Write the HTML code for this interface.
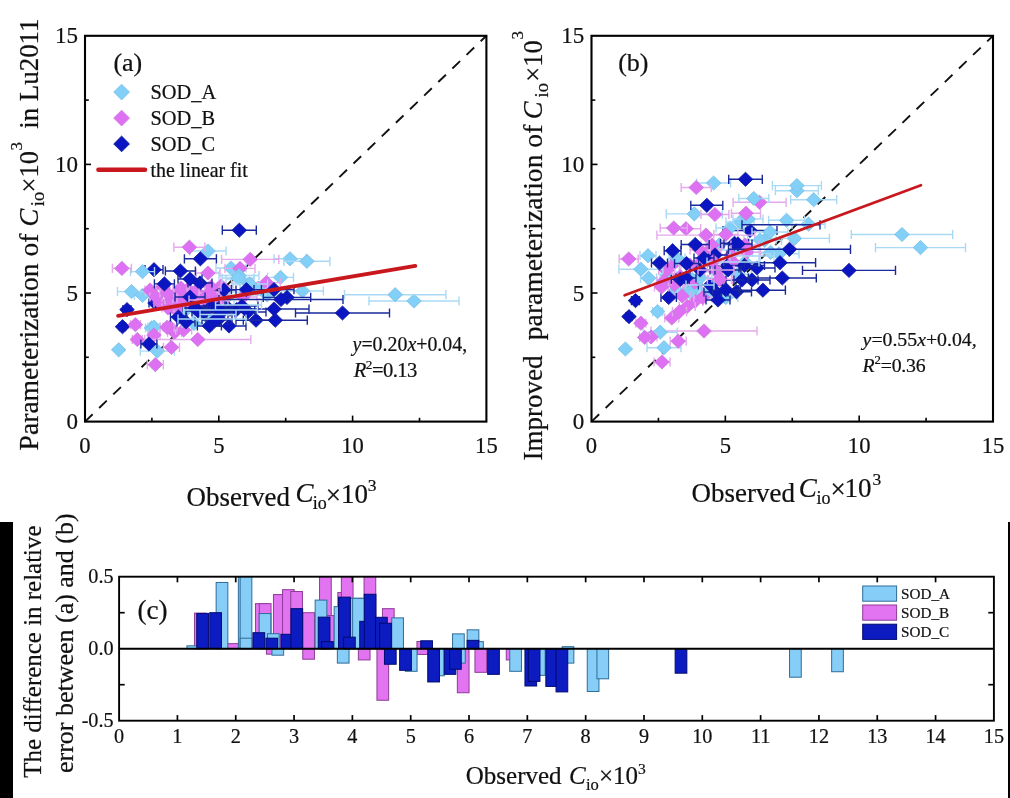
<!DOCTYPE html>
<html lang="en"><head><meta charset="utf-8"><title>Figure</title>
<style>html,body{margin:0;padding:0;background:#fff;}body{width:1010px;height:798px;overflow:hidden;}svg{display:block;}text{font-family:'Liberation Serif', 'DejaVu Serif', serif;fill:#111;stroke:#111;stroke-width:0.22px;}</style>
</head><body>
<svg width="1010" height="798" viewBox="0 0 1010 798">
<rect x="0" y="0" width="1010" height="798" fill="#fff"/>
<rect x="0" y="522" width="13" height="276" fill="#000"/>
<rect x="1008" y="522" width="2" height="276" fill="#000"/>
<g id="panel-a">
<line x1="85" y1="421.6" x2="486.4" y2="35.8" stroke="#111" stroke-width="1.9" stroke-dasharray="10.6 9"/>
<path d="M267.5 277.4H293.5M267.5 272.8V282M293.5 272.8V282" fill="none" stroke="#a9d9f5" stroke-width="1.4"/>
<path d="M273.2 277.4L280.5 270.3L287.8 277.4L280.5 284.5Z" fill="#82cff7" stroke="#79bfe6" stroke-width="0.8"/>
<path d="M204 305H234M204 300.4V309.6M234 300.4V309.6" fill="none" stroke="#a9d9f5" stroke-width="1.4"/>
<path d="M211.7 305L219 297.9L226.3 305L219 312.1Z" fill="#82cff7" stroke="#79bfe6" stroke-width="0.8"/>
<path d="M216 268H246M216 263.4V272.6M246 263.4V272.6" fill="none" stroke="#a9d9f5" stroke-width="1.4"/>
<path d="M223.7 268L231 260.9L238.3 268L231 275.1Z" fill="#82cff7" stroke="#79bfe6" stroke-width="0.8"/>
<path d="M192 315H218M192 310.4V319.6M218 310.4V319.6" fill="none" stroke="#a9d9f5" stroke-width="1.4"/>
<path d="M197.7 315L205 307.9L212.3 315L205 322.1Z" fill="#82cff7" stroke="#79bfe6" stroke-width="0.8"/>
<path d="M199 300H227M199 295.4V304.6M227 295.4V304.6" fill="none" stroke="#a9d9f5" stroke-width="1.4"/>
<path d="M205.7 300L213 292.9L220.3 300L213 307.1Z" fill="#82cff7" stroke="#79bfe6" stroke-width="0.8"/>
<path d="M190 251H226M190 246.4V255.6M226 246.4V255.6" fill="none" stroke="#a9d9f5" stroke-width="1.4"/>
<path d="M200.7 251L208 243.9L215.3 251L208 258.1Z" fill="#82cff7" stroke="#79bfe6" stroke-width="0.8"/>
<path d="M111.4 349.8L118.7 342.7L126 349.8L118.7 356.9Z" fill="#82cff7" stroke="#79bfe6" stroke-width="0.8"/>
<path d="M166 300H186M166 295.4V304.6M186 295.4V304.6" fill="none" stroke="#a9d9f5" stroke-width="1.4"/>
<path d="M168.7 300L176 292.9L183.3 300L176 307.1Z" fill="#82cff7" stroke="#79bfe6" stroke-width="0.8"/>
<path d="M211 298H241M211 293.4V302.6M241 293.4V302.6" fill="none" stroke="#a9d9f5" stroke-width="1.4"/>
<path d="M218.7 298L226 290.9L233.3 298L226 305.1Z" fill="#82cff7" stroke="#79bfe6" stroke-width="0.8"/>
<path d="M281.4 291H323.4M281.4 286.4V295.6M323.4 286.4V295.6" fill="none" stroke="#a9d9f5" stroke-width="1.4"/>
<path d="M295.1 291L302.4 283.9L309.7 291L302.4 298.1Z" fill="#82cff7" stroke="#79bfe6" stroke-width="0.8"/>
<path d="M149 303H161M149 298.4V307.6M161 298.4V307.6" fill="none" stroke="#1a2a9c" stroke-width="1.4"/>
<path d="M147.7 303L155 295.9L162.3 303L155 310.1Z" fill="#0b16c2" stroke="#101c96" stroke-width="0.8"/>
<path d="M134.5 295.4H150.5M134.5 290.8V300M150.5 290.8V300" fill="none" stroke="#a9d9f5" stroke-width="1.4"/>
<path d="M135.2 295.4L142.5 288.3L149.8 295.4L142.5 302.5Z" fill="#82cff7" stroke="#79bfe6" stroke-width="0.8"/>
<path d="M247 295H287M247 290.4V299.6M287 290.4V299.6" fill="none" stroke="#a9d9f5" stroke-width="1.4"/>
<path d="M259.7 295L267 287.9L274.3 295L267 302.1Z" fill="#82cff7" stroke="#79bfe6" stroke-width="0.8"/>
<path d="M174 310H198M174 305.4V314.6M198 305.4V314.6" fill="none" stroke="#a9d9f5" stroke-width="1.4"/>
<path d="M178.7 310L186 302.9L193.3 310L186 317.1Z" fill="#82cff7" stroke="#79bfe6" stroke-width="0.8"/>
<path d="M226 279H254M226 274.4V283.6M254 274.4V283.6" fill="none" stroke="#a9d9f5" stroke-width="1.4"/>
<path d="M232.7 279L240 271.9L247.3 279L240 286.1Z" fill="#82cff7" stroke="#79bfe6" stroke-width="0.8"/>
<path d="M240 288H276M240 283.4V292.6M276 283.4V292.6" fill="none" stroke="#a9d9f5" stroke-width="1.4"/>
<path d="M250.7 288L258 280.9L265.3 288L258 295.1Z" fill="#82cff7" stroke="#79bfe6" stroke-width="0.8"/>
<path d="M274 258.8H306M274 254.2V263.4M306 254.2V263.4" fill="none" stroke="#a9d9f5" stroke-width="1.4"/>
<path d="M282.7 258.8L290 251.7L297.3 258.8L290 265.9Z" fill="#82cff7" stroke="#79bfe6" stroke-width="0.8"/>
<path d="M140.3 351.1H174.3M140.3 346.5V355.7M174.3 346.5V355.7" fill="none" stroke="#a9d9f5" stroke-width="1.4"/>
<path d="M150 351.1L157.3 344L164.6 351.1L157.3 358.2Z" fill="#82cff7" stroke="#79bfe6" stroke-width="0.8"/>
<path d="M252.3 282.6H280.3M252.3 278V287.2M280.3 278V287.2" fill="none" stroke="#e4aaeb" stroke-width="1.4"/>
<path d="M259 282.6L266.3 275.5L273.6 282.6L266.3 289.7Z" fill="#dd70f3" stroke="#cc77dc" stroke-width="0.8"/>
<path d="M193 300H213M193 295.4V304.6M213 295.4V304.6" fill="none" stroke="#e4aaeb" stroke-width="1.4"/>
<path d="M195.7 300L203 292.9L210.3 300L203 307.1Z" fill="#dd70f3" stroke="#cc77dc" stroke-width="0.8"/>
<path d="M145.5 328H157.5M145.5 323.4V332.6M157.5 323.4V332.6" fill="none" stroke="#a9d9f5" stroke-width="1.4"/>
<path d="M144.2 328L151.5 320.9L158.8 328L151.5 335.1Z" fill="#82cff7" stroke="#79bfe6" stroke-width="0.8"/>
<path d="M229.5 292H265.5M229.5 287.4V296.6M265.5 287.4V296.6" fill="none" stroke="#a9d9f5" stroke-width="1.4"/>
<path d="M240.2 292L247.5 284.9L254.8 292L247.5 299.1Z" fill="#82cff7" stroke="#79bfe6" stroke-width="0.8"/>
<path d="M167.6 332.5H181.6M167.6 327.9V337.1M181.6 327.9V337.1" fill="none" stroke="#e4aaeb" stroke-width="1.4"/>
<path d="M167.3 332.5L174.6 325.4L181.9 332.5L174.6 339.6Z" fill="#dd70f3" stroke="#cc77dc" stroke-width="0.8"/>
<path d="M157 287H169M157 282.4V291.6M169 282.4V291.6" fill="none" stroke="#e4aaeb" stroke-width="1.4"/>
<path d="M155.7 287L163 279.9L170.3 287L163 294.1Z" fill="#dd70f3" stroke="#cc77dc" stroke-width="0.8"/>
<path d="M147.3 364.6H163.3M147.3 360V369.2M163.3 360V369.2" fill="none" stroke="#e4aaeb" stroke-width="1.4"/>
<path d="M148 364.6L155.3 357.5L162.6 364.6L155.3 371.7Z" fill="#dd70f3" stroke="#cc77dc" stroke-width="0.8"/>
<path d="M148 327H160M148 322.4V331.6M160 322.4V331.6" fill="none" stroke="#a9d9f5" stroke-width="1.4"/>
<path d="M146.7 327L154 319.9L161.3 327L154 334.1Z" fill="#82cff7" stroke="#79bfe6" stroke-width="0.8"/>
<path d="M209 285.8H233M209 281.2V290.4M233 281.2V290.4" fill="none" stroke="#e4aaeb" stroke-width="1.4"/>
<path d="M213.7 285.8L221 278.7L228.3 285.8L221 292.9Z" fill="#dd70f3" stroke="#cc77dc" stroke-width="0.8"/>
<path d="M196 273H220M196 268.4V277.6M220 268.4V277.6" fill="none" stroke="#e4aaeb" stroke-width="1.4"/>
<path d="M200.7 273L208 265.9L215.3 273L208 280.1Z" fill="#dd70f3" stroke="#cc77dc" stroke-width="0.8"/>
<path d="M173.9 247.2H204.9M173.9 242.6V251.8M204.9 242.6V251.8" fill="none" stroke="#e4aaeb" stroke-width="1.4"/>
<path d="M182.1 247.2L189.4 240.1L196.7 247.2L189.4 254.3Z" fill="#dd70f3" stroke="#cc77dc" stroke-width="0.8"/>
<path d="M205 296H225M205 291.4V300.6M225 291.4V300.6" fill="none" stroke="#e4aaeb" stroke-width="1.4"/>
<path d="M207.7 296L215 288.9L222.3 296L215 303.1Z" fill="#dd70f3" stroke="#cc77dc" stroke-width="0.8"/>
<path d="M283.9 261.3H329.9M283.9 256.7V265.9M329.9 256.7V265.9" fill="none" stroke="#a9d9f5" stroke-width="1.4"/>
<path d="M299.6 261.3L306.9 254.2L314.2 261.3L306.9 268.4Z" fill="#82cff7" stroke="#79bfe6" stroke-width="0.8"/>
<path d="M225 268.4H255M225 263.8V273M255 263.8V273" fill="none" stroke="#e4aaeb" stroke-width="1.4"/>
<path d="M232.7 268.4L240 261.3L247.3 268.4L240 275.5Z" fill="#dd70f3" stroke="#cc77dc" stroke-width="0.8"/>
<path d="M154 303H166M154 298.4V307.6M166 298.4V307.6" fill="none" stroke="#e4aaeb" stroke-width="1.4"/>
<path d="M152.7 303L160 295.9L167.3 303L160 310.1Z" fill="#dd70f3" stroke="#cc77dc" stroke-width="0.8"/>
<path d="M212 290H236M212 285.4V294.6M236 285.4V294.6" fill="none" stroke="#1a2a9c" stroke-width="1.4"/>
<path d="M216.7 290L224 282.9L231.3 290L224 297.1Z" fill="#0b16c2" stroke="#101c96" stroke-width="0.8"/>
<path d="M219 275.5H259M219 270.9V280.1M259 270.9V280.1" fill="none" stroke="#a9d9f5" stroke-width="1.4"/>
<path d="M231.7 275.5L239 268.4L246.3 275.5L239 282.6Z" fill="#82cff7" stroke="#79bfe6" stroke-width="0.8"/>
<path d="M117.5 291.6H145.5M117.5 287V296.2M145.5 287V296.2" fill="none" stroke="#a9d9f5" stroke-width="1.4"/>
<path d="M124.2 291.6L131.5 284.5L138.8 291.6L131.5 298.7Z" fill="#82cff7" stroke="#79bfe6" stroke-width="0.8"/>
<path d="M145 269.7H163M145 265.1V274.3M163 265.1V274.3" fill="none" stroke="#1a2a9c" stroke-width="1.4"/>
<path d="M146.7 269.7L154 262.6L161.3 269.7L154 276.8Z" fill="#0b16c2" stroke="#101c96" stroke-width="0.8"/>
<path d="M175.7 329.9H191.7M175.7 325.3V334.5M191.7 325.3V334.5" fill="none" stroke="#e4aaeb" stroke-width="1.4"/>
<path d="M176.4 329.9L183.7 322.8L191 329.9L183.7 337Z" fill="#dd70f3" stroke="#cc77dc" stroke-width="0.8"/>
<path d="M182 323.5H206M182 318.9V328.1M206 318.9V328.1" fill="none" stroke="#a9d9f5" stroke-width="1.4"/>
<path d="M186.7 323.5L194 316.4L201.3 323.5L194 330.6Z" fill="#82cff7" stroke="#79bfe6" stroke-width="0.8"/>
<path d="M165.4 271H195.4M165.4 266.4V275.6M195.4 266.4V275.6" fill="none" stroke="#1a2a9c" stroke-width="1.4"/>
<path d="M173.1 271L180.4 263.9L187.7 271L180.4 278.1Z" fill="#0b16c2" stroke="#101c96" stroke-width="0.8"/>
<path d="M213 308H243M213 303.4V312.6M243 303.4V312.6" fill="none" stroke="#1a2a9c" stroke-width="1.4"/>
<path d="M220.7 308L228 300.9L235.3 308L228 315.1Z" fill="#0b16c2" stroke="#101c96" stroke-width="0.8"/>
<path d="M201 287H221M201 282.4V291.6M221 282.4V291.6" fill="none" stroke="#e4aaeb" stroke-width="1.4"/>
<path d="M203.7 287L211 279.9L218.3 287L211 294.1Z" fill="#dd70f3" stroke="#cc77dc" stroke-width="0.8"/>
<path d="M222 278H254M222 273.4V282.6M254 273.4V282.6" fill="none" stroke="#a9d9f5" stroke-width="1.4"/>
<path d="M230.7 278L238 270.9L245.3 278L238 285.1Z" fill="#82cff7" stroke="#79bfe6" stroke-width="0.8"/>
<path d="M130.5 271.6H154.5M130.5 267V276.2M154.5 267V276.2" fill="none" stroke="#a9d9f5" stroke-width="1.4"/>
<path d="M135.2 271.6L142.5 264.5L149.8 271.6L142.5 278.7Z" fill="#82cff7" stroke="#79bfe6" stroke-width="0.8"/>
<path d="M145 290H155M145 285.4V294.6M155 285.4V294.6" fill="none" stroke="#e4aaeb" stroke-width="1.4"/>
<path d="M142.7 290L150 282.9L157.3 290L150 297.1Z" fill="#dd70f3" stroke="#cc77dc" stroke-width="0.8"/>
<path d="M150 297H162M150 292.4V301.6M162 292.4V301.6" fill="none" stroke="#e4aaeb" stroke-width="1.4"/>
<path d="M148.7 297L156 289.9L163.3 297L156 304.1Z" fill="#dd70f3" stroke="#cc77dc" stroke-width="0.8"/>
<path d="M208 301H228M208 296.4V305.6M228 296.4V305.6" fill="none" stroke="#e4aaeb" stroke-width="1.4"/>
<path d="M210.7 301L218 293.9L225.3 301L218 308.1Z" fill="#dd70f3" stroke="#cc77dc" stroke-width="0.8"/>
<path d="M369 301H459M369 296.4V305.6M459 296.4V305.6" fill="none" stroke="#a9d9f5" stroke-width="1.4"/>
<path d="M406.7 301L414 293.9L421.3 301L414 308.1Z" fill="#82cff7" stroke="#79bfe6" stroke-width="0.8"/>
<path d="M221.6 259.4H278.8M221.6 254.8V264M278.8 254.8V264" fill="none" stroke="#e4aaeb" stroke-width="1.4"/>
<path d="M242.9 259.4L250.2 252.3L257.5 259.4L250.2 266.5Z" fill="#dd70f3" stroke="#cc77dc" stroke-width="0.8"/>
<path d="M119.5 326.7H125.5M119.5 322.1V331.3M125.5 322.1V331.3" fill="none" stroke="#1a2a9c" stroke-width="1.4"/>
<path d="M115.2 326.7L122.5 319.6L129.8 326.7L122.5 333.8Z" fill="#0b16c2" stroke="#101c96" stroke-width="0.8"/>
<path d="M231.6 284H267.6M231.6 279.4V288.6M267.6 279.4V288.6" fill="none" stroke="#a9d9f5" stroke-width="1.4"/>
<path d="M242.3 284L249.6 276.9L256.9 284L249.6 291.1Z" fill="#82cff7" stroke="#79bfe6" stroke-width="0.8"/>
<path d="M344.5 294.7H445.9M344.5 290.1V299.3M445.9 290.1V299.3" fill="none" stroke="#a9d9f5" stroke-width="1.4"/>
<path d="M387.9 294.7L395.2 287.6L402.5 294.7L395.2 301.8Z" fill="#82cff7" stroke="#79bfe6" stroke-width="0.8"/>
<path d="M112.4 268.4H131.4M112.4 263.8V273M131.4 263.8V273" fill="none" stroke="#e4aaeb" stroke-width="1.4"/>
<path d="M114.6 268.4L121.9 261.3L129.2 268.4L121.9 275.5Z" fill="#dd70f3" stroke="#cc77dc" stroke-width="0.8"/>
<path d="M230 312H266M230 307.4V316.6M266 307.4V316.6" fill="none" stroke="#1a2a9c" stroke-width="1.4"/>
<path d="M240.7 312L248 304.9L255.3 312L248 319.1Z" fill="#0b16c2" stroke="#101c96" stroke-width="0.8"/>
<path d="M169 310H183M169 305.4V314.6M183 305.4V314.6" fill="none" stroke="#e4aaeb" stroke-width="1.4"/>
<path d="M168.7 310L176 302.9L183.3 310L176 317.1Z" fill="#dd70f3" stroke="#cc77dc" stroke-width="0.8"/>
<path d="M197 305H215M197 300.4V309.6M215 300.4V309.6" fill="none" stroke="#e4aaeb" stroke-width="1.4"/>
<path d="M198.7 305L206 297.9L213.3 305L206 312.1Z" fill="#dd70f3" stroke="#cc77dc" stroke-width="0.8"/>
<path d="M162 308H174M162 303.4V312.6M174 303.4V312.6" fill="none" stroke="#e4aaeb" stroke-width="1.4"/>
<path d="M160.7 308L168 300.9L175.3 308L168 315.1Z" fill="#dd70f3" stroke="#cc77dc" stroke-width="0.8"/>
<path d="M254 289.6H294M254 285V294.2M294 285V294.2" fill="none" stroke="#1a2a9c" stroke-width="1.4"/>
<path d="M266.7 289.6L274 282.5L281.3 289.6L274 296.7Z" fill="#0b16c2" stroke="#101c96" stroke-width="0.8"/>
<path d="M170 292H184M170 287.4V296.6M184 287.4V296.6" fill="none" stroke="#e4aaeb" stroke-width="1.4"/>
<path d="M169.7 292L177 284.9L184.3 292L177 299.1Z" fill="#dd70f3" stroke="#cc77dc" stroke-width="0.8"/>
<path d="M132.3 339.5H142.3M132.3 334.9V344.1M142.3 334.9V344.1" fill="none" stroke="#e4aaeb" stroke-width="1.4"/>
<path d="M130 339.5L137.3 332.4L144.6 339.5L137.3 346.6Z" fill="#dd70f3" stroke="#cc77dc" stroke-width="0.8"/>
<path d="M236 320.2H276M236 315.6V324.8M276 315.6V324.8" fill="none" stroke="#1a2a9c" stroke-width="1.4"/>
<path d="M248.7 320.2L256 313.1L263.3 320.2L256 327.3Z" fill="#0b16c2" stroke="#101c96" stroke-width="0.8"/>
<path d="M165 300H179M165 295.4V304.6M179 295.4V304.6" fill="none" stroke="#e4aaeb" stroke-width="1.4"/>
<path d="M164.7 300L172 292.9L179.3 300L172 307.1Z" fill="#dd70f3" stroke="#cc77dc" stroke-width="0.8"/>
<path d="M183 305H201M183 300.4V309.6M201 300.4V309.6" fill="none" stroke="#e4aaeb" stroke-width="1.4"/>
<path d="M184.7 305L192 297.9L199.3 305L192 312.1Z" fill="#dd70f3" stroke="#cc77dc" stroke-width="0.8"/>
<path d="M148 335H160M148 330.4V339.6M160 330.4V339.6" fill="none" stroke="#e4aaeb" stroke-width="1.4"/>
<path d="M146.7 335L154 327.9L161.3 335L154 342.1Z" fill="#dd70f3" stroke="#cc77dc" stroke-width="0.8"/>
<path d="M163 327H177M163 322.4V331.6M177 322.4V331.6" fill="none" stroke="#e4aaeb" stroke-width="1.4"/>
<path d="M162.7 327L170 319.9L177.3 327L170 334.1Z" fill="#dd70f3" stroke="#cc77dc" stroke-width="0.8"/>
<path d="M190 296H208M190 291.4V300.6M208 291.4V300.6" fill="none" stroke="#e4aaeb" stroke-width="1.4"/>
<path d="M191.7 296L199 288.9L206.3 296L199 303.1Z" fill="#dd70f3" stroke="#cc77dc" stroke-width="0.8"/>
<path d="M222.3 230.2H256.3M222.3 225.6V234.8M256.3 225.6V234.8" fill="none" stroke="#1a2a9c" stroke-width="1.4"/>
<path d="M232 230.2L239.3 223.1L246.6 230.2L239.3 237.3Z" fill="#0b16c2" stroke="#101c96" stroke-width="0.8"/>
<path d="M123 309.6H131M123 305V314.2M131 305V314.2" fill="none" stroke="#1a2a9c" stroke-width="1.4"/>
<path d="M119.7 309.6L127 302.5L134.3 309.6L127 316.7Z" fill="#0b16c2" stroke="#101c96" stroke-width="0.8"/>
<path d="M180 289H196M180 284.4V293.6M196 284.4V293.6" fill="none" stroke="#e4aaeb" stroke-width="1.4"/>
<path d="M180.7 289L188 281.9L195.3 289L188 296.1Z" fill="#dd70f3" stroke="#cc77dc" stroke-width="0.8"/>
<path d="M173 288H189M173 283.4V292.6M189 283.4V292.6" fill="none" stroke="#e4aaeb" stroke-width="1.4"/>
<path d="M173.7 288L181 280.9L188.3 288L181 295.1Z" fill="#dd70f3" stroke="#cc77dc" stroke-width="0.8"/>
<path d="M144.8 339.5H250.8M144.8 334.9V344.1M250.8 334.9V344.1" fill="none" stroke="#e4aaeb" stroke-width="1.4"/>
<path d="M190.5 339.5L197.8 332.4L205.1 339.5L197.8 346.6Z" fill="#dd70f3" stroke="#cc77dc" stroke-width="0.8"/>
<path d="M207 313H235M207 308.4V317.6M235 308.4V317.6" fill="none" stroke="#1a2a9c" stroke-width="1.4"/>
<path d="M213.7 313L221 305.9L228.3 313L221 320.1Z" fill="#0b16c2" stroke="#101c96" stroke-width="0.8"/>
<path d="M243.3 320.2H307.3M243.3 315.6V324.8M307.3 315.6V324.8" fill="none" stroke="#1a2a9c" stroke-width="1.4"/>
<path d="M268 320.2L275.3 313.1L282.6 320.2L275.3 327.3Z" fill="#0b16c2" stroke="#101c96" stroke-width="0.8"/>
<path d="M173 304H187M173 299.4V308.6M187 299.4V308.6" fill="none" stroke="#e4aaeb" stroke-width="1.4"/>
<path d="M172.7 304L180 296.9L187.3 304L180 311.1Z" fill="#dd70f3" stroke="#cc77dc" stroke-width="0.8"/>
<path d="M184.4 258.8H216.4M184.4 254.2V263.4M216.4 254.2V263.4" fill="none" stroke="#1a2a9c" stroke-width="1.4"/>
<path d="M193.1 258.8L200.4 251.7L207.7 258.8L200.4 265.9Z" fill="#0b16c2" stroke="#101c96" stroke-width="0.8"/>
<path d="M229 297H257M229 292.4V301.6M257 292.4V301.6" fill="none" stroke="#e4aaeb" stroke-width="1.4"/>
<path d="M235.7 297L243 289.9L250.3 297L243 304.1Z" fill="#dd70f3" stroke="#cc77dc" stroke-width="0.8"/>
<path d="M140.9 344H156.9M140.9 339.4V348.6M156.9 339.4V348.6" fill="none" stroke="#1a2a9c" stroke-width="1.4"/>
<path d="M141.6 344L148.9 336.9L156.2 344L148.9 351.1Z" fill="#0b16c2" stroke="#101c96" stroke-width="0.8"/>
<path d="M177 322H195M177 317.4V326.6M195 317.4V326.6" fill="none" stroke="#1a2a9c" stroke-width="1.4"/>
<path d="M178.7 322L186 314.9L193.3 322L186 329.1Z" fill="#0b16c2" stroke="#101c96" stroke-width="0.8"/>
<path d="M263.3 297.4H310.7M263.3 292.8V302M310.7 292.8V302" fill="none" stroke="#1a2a9c" stroke-width="1.4"/>
<path d="M279.7 297.4L287 290.3L294.3 297.4L287 304.5Z" fill="#0b16c2" stroke="#101c96" stroke-width="0.8"/>
<path d="M192 312H216M192 307.4V316.6M216 307.4V316.6" fill="none" stroke="#1a2a9c" stroke-width="1.4"/>
<path d="M196.7 312L204 304.9L211.3 312L204 319.1Z" fill="#0b16c2" stroke="#101c96" stroke-width="0.8"/>
<path d="M160 293H174M160 288.4V297.6M174 288.4V297.6" fill="none" stroke="#e4aaeb" stroke-width="1.4"/>
<path d="M159.7 293L167 285.9L174.3 293L167 300.1Z" fill="#dd70f3" stroke="#cc77dc" stroke-width="0.8"/>
<path d="M130.4 324.7H140.4M130.4 320.1V329.3M140.4 320.1V329.3" fill="none" stroke="#e4aaeb" stroke-width="1.4"/>
<path d="M128.1 324.7L135.4 317.6L142.7 324.7L135.4 331.8Z" fill="#dd70f3" stroke="#cc77dc" stroke-width="0.8"/>
<path d="M212 326H246M212 321.4V330.6M246 321.4V330.6" fill="none" stroke="#1a2a9c" stroke-width="1.4"/>
<path d="M221.7 326L229 318.9L236.3 326L229 333.1Z" fill="#0b16c2" stroke="#101c96" stroke-width="0.8"/>
<path d="M187 291H205M187 286.4V295.6M205 286.4V295.6" fill="none" stroke="#e4aaeb" stroke-width="1.4"/>
<path d="M188.7 291L196 283.9L203.3 291L196 298.1Z" fill="#dd70f3" stroke="#cc77dc" stroke-width="0.8"/>
<path d="M218.7 309.5H254.7M218.7 304.9V314.1M254.7 304.9V314.1" fill="none" stroke="#1a2a9c" stroke-width="1.4"/>
<path d="M229.4 309.5L236.7 302.4L244 309.5L236.7 316.6Z" fill="#0b16c2" stroke="#101c96" stroke-width="0.8"/>
<path d="M160 327.3H174M160 322.7V331.9M174 322.7V331.9" fill="none" stroke="#e4aaeb" stroke-width="1.4"/>
<path d="M159.7 327.3L167 320.2L174.3 327.3L167 334.4Z" fill="#dd70f3" stroke="#cc77dc" stroke-width="0.8"/>
<path d="M199 306H225M199 301.4V310.6M225 301.4V310.6" fill="none" stroke="#1a2a9c" stroke-width="1.4"/>
<path d="M204.7 306L212 298.9L219.3 306L212 313.1Z" fill="#0b16c2" stroke="#101c96" stroke-width="0.8"/>
<path d="M226 306H258M226 301.4V310.6M258 301.4V310.6" fill="none" stroke="#1a2a9c" stroke-width="1.4"/>
<path d="M234.7 306L242 298.9L249.3 306L242 313.1Z" fill="#0b16c2" stroke="#101c96" stroke-width="0.8"/>
<path d="M239 309H309M239 304.4V313.6M309 304.4V313.6" fill="none" stroke="#1a2a9c" stroke-width="1.4"/>
<path d="M266.7 309L274 301.9L281.3 309L274 316.1Z" fill="#0b16c2" stroke="#101c96" stroke-width="0.8"/>
<path d="M177 298H193M177 293.4V302.6M193 293.4V302.6" fill="none" stroke="#e4aaeb" stroke-width="1.4"/>
<path d="M177.7 298L185 290.9L192.3 298L185 305.1Z" fill="#dd70f3" stroke="#cc77dc" stroke-width="0.8"/>
<path d="M188 283H212M188 278.4V287.6M212 278.4V287.6" fill="none" stroke="#1a2a9c" stroke-width="1.4"/>
<path d="M192.7 283L200 275.9L207.3 283L200 290.1Z" fill="#0b16c2" stroke="#101c96" stroke-width="0.8"/>
<path d="M199 293H219M199 288.4V297.6M219 288.4V297.6" fill="none" stroke="#e4aaeb" stroke-width="1.4"/>
<path d="M201.7 293L209 285.9L216.3 293L209 300.1Z" fill="#dd70f3" stroke="#cc77dc" stroke-width="0.8"/>
<path d="M163.4 347.3H179.4M163.4 342.7V351.9M179.4 342.7V351.9" fill="none" stroke="#e4aaeb" stroke-width="1.4"/>
<path d="M164.1 347.3L171.4 340.2L178.7 347.3L171.4 354.4Z" fill="#dd70f3" stroke="#cc77dc" stroke-width="0.8"/>
<path d="M154.4 283.9H174.4M154.4 279.3V288.5M174.4 279.3V288.5" fill="none" stroke="#1a2a9c" stroke-width="1.4"/>
<path d="M157.1 283.9L164.4 276.8L171.7 283.9L164.4 291Z" fill="#0b16c2" stroke="#101c96" stroke-width="0.8"/>
<path d="M206 319H232M206 314.4V323.6M232 314.4V323.6" fill="none" stroke="#1a2a9c" stroke-width="1.4"/>
<path d="M211.7 319L219 311.9L226.3 319L219 326.1Z" fill="#0b16c2" stroke="#101c96" stroke-width="0.8"/>
<path d="M197.4 326H221.4M197.4 321.4V330.6M221.4 321.4V330.6" fill="none" stroke="#1a2a9c" stroke-width="1.4"/>
<path d="M202.1 326L209.4 318.9L216.7 326L209.4 333.1Z" fill="#0b16c2" stroke="#101c96" stroke-width="0.8"/>
<path d="M175 297H205M175 292.4V301.6M205 292.4V301.6" fill="none" stroke="#1a2a9c" stroke-width="1.4"/>
<path d="M182.7 297L190 289.9L197.3 297L190 304.1Z" fill="#0b16c2" stroke="#101c96" stroke-width="0.8"/>
<path d="M183 308H207M183 303.4V312.6M207 303.4V312.6" fill="none" stroke="#1a2a9c" stroke-width="1.4"/>
<path d="M187.7 308L195 300.9L202.3 308L195 315.1Z" fill="#0b16c2" stroke="#101c96" stroke-width="0.8"/>
<path d="M186 311H210M186 306.4V315.6M210 306.4V315.6" fill="none" stroke="#1a2a9c" stroke-width="1.4"/>
<path d="M190.7 311L198 303.9L205.3 311L198 318.1Z" fill="#0b16c2" stroke="#101c96" stroke-width="0.8"/>
<path d="M231.4 289.6H261.4M231.4 285V294.2M261.4 285V294.2" fill="none" stroke="#1a2a9c" stroke-width="1.4"/>
<path d="M239.1 289.6L246.4 282.5L253.7 289.6L246.4 296.7Z" fill="#0b16c2" stroke="#101c96" stroke-width="0.8"/>
<path d="M202 320H228M202 315.4V324.6M228 315.4V324.6" fill="none" stroke="#1a2a9c" stroke-width="1.4"/>
<path d="M207.7 320L215 312.9L222.3 320L215 327.1Z" fill="#0b16c2" stroke="#101c96" stroke-width="0.8"/>
<path d="M204 309H232M204 304.4V313.6M232 304.4V313.6" fill="none" stroke="#1a2a9c" stroke-width="1.4"/>
<path d="M210.7 309L218 301.9L225.3 309L218 316.1Z" fill="#0b16c2" stroke="#101c96" stroke-width="0.8"/>
<path d="M219 299.5H343M219 294.9V304.1M343 294.9V304.1" fill="none" stroke="#1a2a9c" stroke-width="1.4"/>
<path d="M273.7 299.5L281 292.4L288.3 299.5L281 306.6Z" fill="#0b16c2" stroke="#101c96" stroke-width="0.8"/>
<path d="M295.5 313H389.5M295.5 308.4V317.6M389.5 308.4V317.6" fill="none" stroke="#1a2a9c" stroke-width="1.4"/>
<path d="M335.2 313L342.5 305.9L349.8 313L342.5 320.1Z" fill="#0b16c2" stroke="#101c96" stroke-width="0.8"/>
<path d="M170.5 317H186.5M170.5 312.4V321.6M186.5 312.4V321.6" fill="none" stroke="#1a2a9c" stroke-width="1.4"/>
<path d="M171.2 317L178.5 309.9L185.8 317L178.5 324.1Z" fill="#0b16c2" stroke="#101c96" stroke-width="0.8"/>
<path d="M178 279H202M178 274.4V283.6M202 274.4V283.6" fill="none" stroke="#1a2a9c" stroke-width="1.4"/>
<path d="M182.7 279L190 271.9L197.3 279L190 286.1Z" fill="#0b16c2" stroke="#101c96" stroke-width="0.8"/>
<path d="M183.5 310H257.5M183.5 305.4V314.6M257.5 305.4V314.6" fill="none" stroke="#a9d9f5" stroke-width="1.4"/>
<path d="M178 319H246M178 314.4V323.6M246 314.4V323.6" fill="none" stroke="#a9d9f5" stroke-width="1.4"/>
<path d="M200 314.5H236M200 309.9V319.1M236 309.9V319.1" fill="none" stroke="#a9d9f5" stroke-width="1.4"/>
<path d="M215.5 305H261.5M215.5 300.4V309.6M261.5 300.4V309.6" fill="none" stroke="#a9d9f5" stroke-width="1.4"/>
<path d="M189 300H221M189 295.4V304.6M221 295.4V304.6" fill="none" stroke="#e4aaeb" stroke-width="1.4"/>
<line x1="118.1" y1="315.8" x2="415.3" y2="265.9" stroke="#c9171e" stroke-width="3.8" stroke-linecap="round"/>
<rect x="85" y="35.8" width="401.4" height="385.8" fill="none" stroke="#000" stroke-width="2.1"/>
<line x1="151.9" y1="421.6" x2="151.9" y2="417.8" stroke="#000" stroke-width="1.6"/>
<line x1="85" y1="357.3" x2="88.8" y2="357.3" stroke="#000" stroke-width="1.6"/>
<line x1="218.8" y1="421.6" x2="218.8" y2="415.6" stroke="#000" stroke-width="1.6"/>
<line x1="85" y1="293" x2="91" y2="293" stroke="#000" stroke-width="1.6"/>
<line x1="285.7" y1="421.6" x2="285.7" y2="417.8" stroke="#000" stroke-width="1.6"/>
<line x1="85" y1="228.7" x2="88.8" y2="228.7" stroke="#000" stroke-width="1.6"/>
<line x1="352.6" y1="421.6" x2="352.6" y2="415.6" stroke="#000" stroke-width="1.6"/>
<line x1="85" y1="164.4" x2="91" y2="164.4" stroke="#000" stroke-width="1.6"/>
<line x1="419.5" y1="421.6" x2="419.5" y2="417.8" stroke="#000" stroke-width="1.6"/>
<line x1="85" y1="100.1" x2="88.8" y2="100.1" stroke="#000" stroke-width="1.6"/>
<text x="85" y="452.6" font-size="22.6" text-anchor="middle">0</text>
<text x="78" y="429.1" font-size="23" text-anchor="end">0</text>
<text x="218.8" y="452.6" font-size="22.6" text-anchor="middle">5</text>
<text x="78" y="300.5" font-size="23" text-anchor="end">5</text>
<text x="352.6" y="452.6" font-size="22.6" text-anchor="middle">10</text>
<text x="78" y="171.9" font-size="23" text-anchor="end">10</text>
<text x="486.4" y="452.6" font-size="22.6" text-anchor="middle">15</text>
<text x="78" y="42.7" font-size="23" text-anchor="end">15</text>
<text x="113.4" y="71.3" font-size="26" text-anchor="start">(a)</text>
<path d="M113.7 92.1L121.6 84.2L129.5 92.1L121.6 100Z" fill="#82cff7" stroke="#79bfe6" stroke-width="0.8"/>
<path d="M113.7 118.1L121.6 110.2L129.5 118.1L121.6 126Z" fill="#dd70f3" stroke="#cc77dc" stroke-width="0.8"/>
<path d="M113.7 143.9L121.6 136L129.5 143.9L121.6 151.8Z" fill="#0b16c2" stroke="#101c96" stroke-width="0.8"/>
<line x1="98.5" y1="169.8" x2="145" y2="169.8" stroke="#c9171e" stroke-width="4.6" stroke-linecap="round"/>
<text x="150.4" y="99.3" font-size="20.4" text-anchor="start">SOD_A</text>
<text x="150.4" y="125.1" font-size="20.4" text-anchor="start">SOD_B</text>
<text x="150.4" y="151" font-size="20.4" text-anchor="start">SOD_C</text>
<text x="150.6" y="176.5" font-size="19.9" text-anchor="start">the linear fit</text>
<text x="352.6" y="350.9" font-size="20.6" textLength="114.6" lengthAdjust="spacingAndGlyphs"><tspan font-style="italic">y</tspan>=0.20<tspan font-style="italic">x</tspan>+0.04,</text>
<text x="353.8" y="376.6" font-size="20.6" letter-spacing="-0.55"><tspan font-style="italic">R</tspan><tspan font-size="13.2" dy="-8">2</tspan><tspan dy="8">=0.13</tspan></text>
<text x="186.6" y="506.4" font-size="26.6" text-anchor="start" textLength="103.3" lengthAdjust="spacingAndGlyphs">Observed</text>
<text x="295.5" y="502.2" font-size="27" text-anchor="start" font-style="italic">C</text>
<text x="312.8" y="509.4" font-size="18" text-anchor="start">io</text>
<text x="325.8" y="503.6" font-size="27" text-anchor="start">×</text>
<text x="341" y="502.7" font-size="27" text-anchor="start">10</text>
<text x="367.8" y="490.6" font-size="17.5" text-anchor="start">3</text>
<text x="0" y="0" font-size="26.4" text-anchor="start" transform="translate(38.3 450.4) rotate(-90)" textLength="216.8" lengthAdjust="spacingAndGlyphs">Parameterization of</text>
<text x="0" y="0" font-size="26.5" text-anchor="start" font-style="italic" transform="translate(38.3 226.6) rotate(-90)">C</text>
<text x="0" y="0" font-size="18.5" text-anchor="start" transform="translate(43.6 206.2) rotate(-90)">io</text>
<text x="0" y="0" font-size="26.5" text-anchor="start" transform="translate(38.3 192.4) rotate(-90)">×10</text>
<text x="0" y="0" font-size="17" text-anchor="start" transform="translate(21.5 150.6) rotate(-90)">3</text>
<text x="0" y="0" font-size="26.4" text-anchor="start" transform="translate(38.3 128.8) rotate(-90)" textLength="110.3" lengthAdjust="spacingAndGlyphs">in Lu2011</text>
</g>
<g id="panel-b">
<line x1="591.5" y1="421.6" x2="993" y2="35.8" stroke="#111" stroke-width="1.9" stroke-dasharray="10.6 9"/>
<path d="M651 331H757M651 326.4V335.6M757 326.4V335.6" fill="none" stroke="#e4aaeb" stroke-width="1.4"/>
<path d="M696.7 331L704 323.9L711.3 331L704 338.1Z" fill="#dd70f3" stroke="#cc77dc" stroke-width="0.8"/>
<path d="M723 230.5H777M723 225.9V235.1M777 225.9V235.1" fill="none" stroke="#1a2a9c" stroke-width="1.4"/>
<path d="M742.7 230.5L750 223.4L757.3 230.5L750 237.6Z" fill="#0b16c2" stroke="#101c96" stroke-width="0.8"/>
<path d="M643.2 332.2H677.2M643.2 327.6V336.8M677.2 327.6V336.8" fill="none" stroke="#a9d9f5" stroke-width="1.4"/>
<path d="M652.9 332.2L660.2 325.1L667.5 332.2L660.2 339.3Z" fill="#82cff7" stroke="#79bfe6" stroke-width="0.8"/>
<path d="M752.6 252.3H788.6M752.6 247.7V256.9M788.6 247.7V256.9" fill="none" stroke="#a9d9f5" stroke-width="1.4"/>
<path d="M763.3 252.3L770.6 245.2L777.9 252.3L770.6 259.4Z" fill="#82cff7" stroke="#79bfe6" stroke-width="0.8"/>
<path d="M851.3 234.5H952.7M851.3 229.9V239.1M952.7 229.9V239.1" fill="none" stroke="#a9d9f5" stroke-width="1.4"/>
<path d="M894.7 234.5L902 227.4L909.3 234.5L902 241.6Z" fill="#82cff7" stroke="#79bfe6" stroke-width="0.8"/>
<path d="M759 253.8H799M759 249.2V258.4M799 249.2V258.4" fill="none" stroke="#a9d9f5" stroke-width="1.4"/>
<path d="M771.7 253.8L779 246.7L786.3 253.8L779 260.9Z" fill="#82cff7" stroke="#79bfe6" stroke-width="0.8"/>
<path d="M730 262H760M730 257.4V266.6M760 257.4V266.6" fill="none" stroke="#a9d9f5" stroke-width="1.4"/>
<path d="M737.7 262L745 254.9L752.3 262L745 269.1Z" fill="#82cff7" stroke="#79bfe6" stroke-width="0.8"/>
<path d="M723.4 274.3H751.4M723.4 269.7V278.9M751.4 269.7V278.9" fill="none" stroke="#a9d9f5" stroke-width="1.4"/>
<path d="M730.1 274.3L737.4 267.2L744.7 274.3L737.4 281.4Z" fill="#82cff7" stroke="#79bfe6" stroke-width="0.8"/>
<path d="M759.4 238.4H829.4M759.4 233.8V243M829.4 233.8V243" fill="none" stroke="#a9d9f5" stroke-width="1.4"/>
<path d="M787.1 238.4L794.4 231.3L801.7 238.4L794.4 245.5Z" fill="#82cff7" stroke="#79bfe6" stroke-width="0.8"/>
<path d="M733.1 202.3H786.1M733.1 197.7V206.9M786.1 197.7V206.9" fill="none" stroke="#e4aaeb" stroke-width="1.4"/>
<path d="M752.3 202.3L759.6 195.2L766.9 202.3L759.6 209.4Z" fill="#dd70f3" stroke="#cc77dc" stroke-width="0.8"/>
<path d="M696.6 183H730.6M696.6 178.4V187.6M730.6 178.4V187.6" fill="none" stroke="#a9d9f5" stroke-width="1.4"/>
<path d="M706.3 183L713.6 175.9L720.9 183L713.6 190.1Z" fill="#82cff7" stroke="#79bfe6" stroke-width="0.8"/>
<path d="M721 250H749M721 245.4V254.6M749 245.4V254.6" fill="none" stroke="#a9d9f5" stroke-width="1.4"/>
<path d="M727.7 250L735 242.9L742.3 250L735 257.1Z" fill="#82cff7" stroke="#79bfe6" stroke-width="0.8"/>
<path d="M688.3 290H708.3M688.3 285.4V294.6M708.3 285.4V294.6" fill="none" stroke="#a9d9f5" stroke-width="1.4"/>
<path d="M691 290L698.3 282.9L705.6 290L698.3 297.1Z" fill="#82cff7" stroke="#79bfe6" stroke-width="0.8"/>
<path d="M668 290H684M668 285.4V294.6M684 285.4V294.6" fill="none" stroke="#a9d9f5" stroke-width="1.4"/>
<path d="M668.7 290L676 282.9L683.3 290L676 297.1Z" fill="#82cff7" stroke="#79bfe6" stroke-width="0.8"/>
<path d="M713.8 297.5H737.8M713.8 292.9V302.1M737.8 292.9V302.1" fill="none" stroke="#a9d9f5" stroke-width="1.4"/>
<path d="M718.5 297.5L725.8 290.4L733.1 297.5L725.8 304.6Z" fill="#82cff7" stroke="#79bfe6" stroke-width="0.8"/>
<path d="M677.3 291.5H695.3M677.3 286.9V296.1M695.3 286.9V296.1" fill="none" stroke="#a9d9f5" stroke-width="1.4"/>
<path d="M679 291.5L686.3 284.4L693.6 291.5L686.3 298.6Z" fill="#82cff7" stroke="#79bfe6" stroke-width="0.8"/>
<path d="M747.6 240.3H781.6M747.6 235.7V244.9M781.6 235.7V244.9" fill="none" stroke="#a9d9f5" stroke-width="1.4"/>
<path d="M757.3 240.3L764.6 233.2L771.9 240.3L764.6 247.4Z" fill="#82cff7" stroke="#79bfe6" stroke-width="0.8"/>
<path d="M707.4 244.8H731.4M707.4 240.2V249.4M731.4 240.2V249.4" fill="none" stroke="#a9d9f5" stroke-width="1.4"/>
<path d="M712.1 244.8L719.4 237.7L726.7 244.8L719.4 251.9Z" fill="#82cff7" stroke="#79bfe6" stroke-width="0.8"/>
<path d="M682.3 279.4H702.3M682.3 274.8V284M702.3 274.8V284" fill="none" stroke="#a9d9f5" stroke-width="1.4"/>
<path d="M685 279.4L692.3 272.3L699.6 279.4L692.3 286.5Z" fill="#82cff7" stroke="#79bfe6" stroke-width="0.8"/>
<path d="M752 232H788M752 227.4V236.6M788 227.4V236.6" fill="none" stroke="#a9d9f5" stroke-width="1.4"/>
<path d="M762.7 232L770 224.9L777.3 232L770 239.1Z" fill="#82cff7" stroke="#79bfe6" stroke-width="0.8"/>
<path d="M700 262H724M700 257.4V266.6M724 257.4V266.6" fill="none" stroke="#a9d9f5" stroke-width="1.4"/>
<path d="M704.7 262L712 254.9L719.3 262L712 269.1Z" fill="#82cff7" stroke="#79bfe6" stroke-width="0.8"/>
<path d="M640.6 278.2H656.6M640.6 273.6V282.8M656.6 273.6V282.8" fill="none" stroke="#a9d9f5" stroke-width="1.4"/>
<path d="M641.3 278.2L648.6 271.1L655.9 278.2L648.6 285.3Z" fill="#82cff7" stroke="#79bfe6" stroke-width="0.8"/>
<path d="M660 275H676M660 270.4V279.6M676 270.4V279.6" fill="none" stroke="#a9d9f5" stroke-width="1.4"/>
<path d="M660.7 275L668 267.9L675.3 275L668 282.1Z" fill="#82cff7" stroke="#79bfe6" stroke-width="0.8"/>
<path d="M618.1 349L625.4 341.9L632.7 349L625.4 356.1Z" fill="#82cff7" stroke="#79bfe6" stroke-width="0.8"/>
<path d="M775.4 190.7H818.4M775.4 186.1V195.3M818.4 186.1V195.3" fill="none" stroke="#a9d9f5" stroke-width="1.4"/>
<path d="M789.6 190.7L796.9 183.6L804.2 190.7L796.9 197.8Z" fill="#82cff7" stroke="#79bfe6" stroke-width="0.8"/>
<path d="M699.4 291.5H721.4M699.4 286.9V296.1M721.4 286.9V296.1" fill="none" stroke="#a9d9f5" stroke-width="1.4"/>
<path d="M703.1 291.5L710.4 284.4L717.7 291.5L710.4 298.6Z" fill="#82cff7" stroke="#79bfe6" stroke-width="0.8"/>
<path d="M663.3 265.9H679.3M663.3 261.3V270.5M679.3 261.3V270.5" fill="none" stroke="#e4aaeb" stroke-width="1.4"/>
<path d="M664 265.9L671.3 258.8L678.6 265.9L671.3 273Z" fill="#dd70f3" stroke="#cc77dc" stroke-width="0.8"/>
<path d="M658.6 270.4H674.6M658.6 265.8V275M674.6 265.8V275" fill="none" stroke="#e4aaeb" stroke-width="1.4"/>
<path d="M659.3 270.4L666.6 263.3L673.9 270.4L666.6 277.5Z" fill="#dd70f3" stroke="#cc77dc" stroke-width="0.8"/>
<path d="M689.3 264.4H707.3M689.3 259.8V269M707.3 259.8V269" fill="none" stroke="#e4aaeb" stroke-width="1.4"/>
<path d="M691 264.4L698.3 257.3L705.6 264.4L698.3 271.5Z" fill="#dd70f3" stroke="#cc77dc" stroke-width="0.8"/>
<path d="M772.4 185.6H821.4M772.4 181V190.2M821.4 181V190.2" fill="none" stroke="#a9d9f5" stroke-width="1.4"/>
<path d="M789.6 185.6L796.9 178.5L804.2 185.6L796.9 192.7Z" fill="#82cff7" stroke="#79bfe6" stroke-width="0.8"/>
<path d="M716 228H744M716 223.4V232.6M744 223.4V232.6" fill="none" stroke="#a9d9f5" stroke-width="1.4"/>
<path d="M722.7 228L730 220.9L737.3 228L730 235.1Z" fill="#82cff7" stroke="#79bfe6" stroke-width="0.8"/>
<path d="M875.5 247.6H965.5M875.5 243V252.2M965.5 243V252.2" fill="none" stroke="#a9d9f5" stroke-width="1.4"/>
<path d="M913.2 247.6L920.5 240.5L927.8 247.6L920.5 254.7Z" fill="#82cff7" stroke="#79bfe6" stroke-width="0.8"/>
<path d="M669 258H685M669 253.4V262.6M685 253.4V262.6" fill="none" stroke="#a9d9f5" stroke-width="1.4"/>
<path d="M669.7 258L677 250.9L684.3 258L677 265.1Z" fill="#82cff7" stroke="#79bfe6" stroke-width="0.8"/>
<path d="M671.3 228.7H700.7M671.3 224.1V233.3M700.7 224.1V233.3" fill="none" stroke="#e4aaeb" stroke-width="1.4"/>
<path d="M678.7 228.7L686 221.6L693.3 228.7L686 235.8Z" fill="#dd70f3" stroke="#cc77dc" stroke-width="0.8"/>
<path d="M684 284H702M684 279.4V288.6M702 279.4V288.6" fill="none" stroke="#e4aaeb" stroke-width="1.4"/>
<path d="M685.7 284L693 276.9L700.3 284L693 291.1Z" fill="#dd70f3" stroke="#cc77dc" stroke-width="0.8"/>
<path d="M708.7 279.5H732.7M708.7 274.9V284.1M732.7 274.9V284.1" fill="none" stroke="#e4aaeb" stroke-width="1.4"/>
<path d="M713.4 279.5L720.7 272.4L728 279.5L720.7 286.6Z" fill="#dd70f3" stroke="#cc77dc" stroke-width="0.8"/>
<path d="M681.2 187.5H711.2M681.2 182.9V192.1M711.2 182.9V192.1" fill="none" stroke="#e4aaeb" stroke-width="1.4"/>
<path d="M688.9 187.5L696.2 180.4L703.5 187.5L696.2 194.6Z" fill="#dd70f3" stroke="#cc77dc" stroke-width="0.8"/>
<path d="M715 266H739M715 261.4V270.6M739 261.4V270.6" fill="none" stroke="#a9d9f5" stroke-width="1.4"/>
<path d="M719.7 266L727 258.9L734.3 266L727 273.1Z" fill="#82cff7" stroke="#79bfe6" stroke-width="0.8"/>
<path d="M790.7 199.7H836.7M790.7 195.1V204.3M836.7 195.1V204.3" fill="none" stroke="#a9d9f5" stroke-width="1.4"/>
<path d="M806.4 199.7L813.7 192.6L821 199.7L813.7 206.8Z" fill="#82cff7" stroke="#79bfe6" stroke-width="0.8"/>
<path d="M666.4 284.6H682.4M666.4 280V289.2M682.4 280V289.2" fill="none" stroke="#e4aaeb" stroke-width="1.4"/>
<path d="M667.1 284.6L674.4 277.5L681.7 284.6L674.4 291.7Z" fill="#dd70f3" stroke="#cc77dc" stroke-width="0.8"/>
<path d="M647 347.7H681M647 343.1V352.3M681 343.1V352.3" fill="none" stroke="#a9d9f5" stroke-width="1.4"/>
<path d="M656.7 347.7L664 340.6L671.3 347.7L664 354.8Z" fill="#82cff7" stroke="#79bfe6" stroke-width="0.8"/>
<path d="M687 301.3H703M687 296.7V305.9M703 296.7V305.9" fill="none" stroke="#e4aaeb" stroke-width="1.4"/>
<path d="M687.7 301.3L695 294.2L702.3 301.3L695 308.4Z" fill="#dd70f3" stroke="#cc77dc" stroke-width="0.8"/>
<path d="M698.4 285H722.4M698.4 280.4V289.6M722.4 280.4V289.6" fill="none" stroke="#1a2a9c" stroke-width="1.4"/>
<path d="M703.1 285L710.4 277.9L717.7 285L710.4 292.1Z" fill="#0b16c2" stroke="#101c96" stroke-width="0.8"/>
<path d="M652.6 311.6H662.6M652.6 307V316.2M662.6 307V316.2" fill="none" stroke="#a9d9f5" stroke-width="1.4"/>
<path d="M650.3 311.6L657.6 304.5L664.9 311.6L657.6 318.7Z" fill="#82cff7" stroke="#79bfe6" stroke-width="0.8"/>
<path d="M640 255.7H656M640 251.1V260.3M656 251.1V260.3" fill="none" stroke="#a9d9f5" stroke-width="1.4"/>
<path d="M640.7 255.7L648 248.6L655.3 255.7L648 262.8Z" fill="#82cff7" stroke="#79bfe6" stroke-width="0.8"/>
<path d="M656.9 235.1H754.9M656.9 230.5V239.7M754.9 230.5V239.7" fill="none" stroke="#e4aaeb" stroke-width="1.4"/>
<path d="M698.6 235.1L705.9 228L713.2 235.1L705.9 242.2Z" fill="#dd70f3" stroke="#cc77dc" stroke-width="0.8"/>
<path d="M792 224.2H825M792 219.6V228.8M825 219.6V228.8" fill="none" stroke="#a9d9f5" stroke-width="1.4"/>
<path d="M801.2 224.2L808.5 217.1L815.8 224.2L808.5 231.3Z" fill="#82cff7" stroke="#79bfe6" stroke-width="0.8"/>
<path d="M714 265.9H740M714 261.3V270.5M740 261.3V270.5" fill="none" stroke="#1a2a9c" stroke-width="1.4"/>
<path d="M719.7 265.9L727 258.8L734.3 265.9L727 273Z" fill="#0b16c2" stroke="#101c96" stroke-width="0.8"/>
<path d="M681 265H699M681 260.4V269.6M699 260.4V269.6" fill="none" stroke="#e4aaeb" stroke-width="1.4"/>
<path d="M682.7 265L690 257.9L697.3 265L690 272.1Z" fill="#dd70f3" stroke="#cc77dc" stroke-width="0.8"/>
<path d="M618.9 269.2H662.9M618.9 264.6V273.8M662.9 264.6V273.8" fill="none" stroke="#a9d9f5" stroke-width="1.4"/>
<path d="M633.6 269.2L640.9 262.1L648.2 269.2L640.9 276.3Z" fill="#82cff7" stroke="#79bfe6" stroke-width="0.8"/>
<path d="M726 222H754M726 217.4V226.6M754 217.4V226.6" fill="none" stroke="#a9d9f5" stroke-width="1.4"/>
<path d="M732.7 222L740 214.9L747.3 222L740 229.1Z" fill="#82cff7" stroke="#79bfe6" stroke-width="0.8"/>
<path d="M700.4 249.3H720.4M700.4 244.7V253.9M720.4 244.7V253.9" fill="none" stroke="#e4aaeb" stroke-width="1.4"/>
<path d="M703.1 249.3L710.4 242.2L717.7 249.3L710.4 256.4Z" fill="#dd70f3" stroke="#cc77dc" stroke-width="0.8"/>
<path d="M657 281H671M657 276.4V285.6M671 276.4V285.6" fill="none" stroke="#e4aaeb" stroke-width="1.4"/>
<path d="M656.7 281L664 273.9L671.3 281L664 288.1Z" fill="#dd70f3" stroke="#cc77dc" stroke-width="0.8"/>
<path d="M666.3 213.9H722.3M666.3 209.3V218.5M722.3 209.3V218.5" fill="none" stroke="#a9d9f5" stroke-width="1.4"/>
<path d="M687 213.9L694.3 206.8L701.6 213.9L694.3 221Z" fill="#82cff7" stroke="#79bfe6" stroke-width="0.8"/>
<path d="M704.8 271.7H728.8M704.8 267.1V276.3M728.8 267.1V276.3" fill="none" stroke="#e4aaeb" stroke-width="1.4"/>
<path d="M709.5 271.7L716.8 264.6L724.1 271.7L716.8 278.8Z" fill="#dd70f3" stroke="#cc77dc" stroke-width="0.8"/>
<path d="M664.8 318H678.8M664.8 313.4V322.6M678.8 313.4V322.6" fill="none" stroke="#e4aaeb" stroke-width="1.4"/>
<path d="M664.5 318L671.8 310.9L679.1 318L671.8 325.1Z" fill="#dd70f3" stroke="#cc77dc" stroke-width="0.8"/>
<path d="M701 245H723M701 240.4V249.6M723 240.4V249.6" fill="none" stroke="#e4aaeb" stroke-width="1.4"/>
<path d="M704.7 245L712 237.9L719.3 245L712 252.1Z" fill="#dd70f3" stroke="#cc77dc" stroke-width="0.8"/>
<path d="M679.8 292.3H699.8M679.8 287.7V296.9M699.8 287.7V296.9" fill="none" stroke="#a9d9f5" stroke-width="1.4"/>
<path d="M682.5 292.3L689.8 285.2L697.1 292.3L689.8 299.4Z" fill="#82cff7" stroke="#79bfe6" stroke-width="0.8"/>
<path d="M744 240H776M744 235.4V244.6M776 235.4V244.6" fill="none" stroke="#a9d9f5" stroke-width="1.4"/>
<path d="M752.7 240L760 232.9L767.3 240L760 247.1Z" fill="#82cff7" stroke="#79bfe6" stroke-width="0.8"/>
<path d="M732.5 252.3H760.5M732.5 247.7V256.9M760.5 247.7V256.9" fill="none" stroke="#e4aaeb" stroke-width="1.4"/>
<path d="M739.2 252.3L746.5 245.2L753.8 252.3L746.5 259.4Z" fill="#dd70f3" stroke="#cc77dc" stroke-width="0.8"/>
<path d="M688 278H712M688 273.4V282.6M712 273.4V282.6" fill="none" stroke="#a9d9f5" stroke-width="1.4"/>
<path d="M692.7 278L700 270.9L707.3 278L700 285.1Z" fill="#82cff7" stroke="#79bfe6" stroke-width="0.8"/>
<path d="M726 280H758M726 275.4V284.6M758 275.4V284.6" fill="none" stroke="#1a2a9c" stroke-width="1.4"/>
<path d="M734.7 280L742 272.9L749.3 280L742 287.1Z" fill="#0b16c2" stroke="#101c96" stroke-width="0.8"/>
<path d="M718 255H744M718 250.4V259.6M744 250.4V259.6" fill="none" stroke="#e4aaeb" stroke-width="1.4"/>
<path d="M723.7 255L731 247.9L738.3 255L731 262.1Z" fill="#dd70f3" stroke="#cc77dc" stroke-width="0.8"/>
<path d="M645 337H657M645 332.4V341.6M657 332.4V341.6" fill="none" stroke="#e4aaeb" stroke-width="1.4"/>
<path d="M643.7 337L651 329.9L658.3 337L651 344.1Z" fill="#dd70f3" stroke="#cc77dc" stroke-width="0.8"/>
<path d="M720 262H746M720 257.4V266.6M746 257.4V266.6" fill="none" stroke="#e4aaeb" stroke-width="1.4"/>
<path d="M725.7 262L733 254.9L740.3 262L733 269.1Z" fill="#dd70f3" stroke="#cc77dc" stroke-width="0.8"/>
<path d="M674 296H690M674 291.4V300.6M690 291.4V300.6" fill="none" stroke="#e4aaeb" stroke-width="1.4"/>
<path d="M674.7 296L682 288.9L689.3 296L682 303.1Z" fill="#dd70f3" stroke="#cc77dc" stroke-width="0.8"/>
<path d="M651.5 263H667.5M651.5 258.4V267.6M667.5 258.4V267.6" fill="none" stroke="#1a2a9c" stroke-width="1.4"/>
<path d="M652.2 263L659.5 255.9L666.8 263L659.5 270.1Z" fill="#0b16c2" stroke="#101c96" stroke-width="0.8"/>
<path d="M697.8 260H717.8M697.8 255.4V264.6M717.8 255.4V264.6" fill="none" stroke="#e4aaeb" stroke-width="1.4"/>
<path d="M700.5 260L707.8 252.9L715.1 260L707.8 267.1Z" fill="#dd70f3" stroke="#cc77dc" stroke-width="0.8"/>
<path d="M738.8 198.5H768.8M738.8 193.9V203.1M768.8 193.9V203.1" fill="none" stroke="#a9d9f5" stroke-width="1.4"/>
<path d="M746.5 198.5L753.8 191.4L761.1 198.5L753.8 205.6Z" fill="#82cff7" stroke="#79bfe6" stroke-width="0.8"/>
<path d="M661 297.5H676.4M661 292.9V302.1M676.4 292.9V302.1" fill="none" stroke="#1a2a9c" stroke-width="1.4"/>
<path d="M661.4 297.5L668.7 290.4L676 297.5L668.7 304.6Z" fill="#0b16c2" stroke="#101c96" stroke-width="0.8"/>
<path d="M693.7 297.5H711.7M693.7 292.9V302.1M711.7 292.9V302.1" fill="none" stroke="#e4aaeb" stroke-width="1.4"/>
<path d="M695.4 297.5L702.7 290.4L710 297.5L702.7 304.6Z" fill="#dd70f3" stroke="#cc77dc" stroke-width="0.8"/>
<path d="M670.2 341.2H686.2M670.2 336.6V345.8M686.2 336.6V345.8" fill="none" stroke="#e4aaeb" stroke-width="1.4"/>
<path d="M670.9 341.2L678.2 334.1L685.5 341.2L678.2 348.3Z" fill="#dd70f3" stroke="#cc77dc" stroke-width="0.8"/>
<path d="M707.4 279.4H731.4M707.4 274.8V284M731.4 274.8V284" fill="none" stroke="#e4aaeb" stroke-width="1.4"/>
<path d="M712.1 279.4L719.4 272.3L726.7 279.4L719.4 286.5Z" fill="#dd70f3" stroke="#cc77dc" stroke-width="0.8"/>
<path d="M690 270H710M690 265.4V274.6M710 265.4V274.6" fill="none" stroke="#1a2a9c" stroke-width="1.4"/>
<path d="M692.7 270L700 262.9L707.3 270L700 277.1Z" fill="#0b16c2" stroke="#101c96" stroke-width="0.8"/>
<path d="M703 255H727M703 250.4V259.6M727 250.4V259.6" fill="none" stroke="#1a2a9c" stroke-width="1.4"/>
<path d="M707.7 255L715 247.9L722.3 255L715 262.1Z" fill="#0b16c2" stroke="#101c96" stroke-width="0.8"/>
<path d="M679.2 306.5H695.2M679.2 301.9V311.1M695.2 301.9V311.1" fill="none" stroke="#e4aaeb" stroke-width="1.4"/>
<path d="M679.9 306.5L687.2 299.4L694.5 306.5L687.2 313.6Z" fill="#dd70f3" stroke="#cc77dc" stroke-width="0.8"/>
<path d="M690 250H710M690 245.4V254.6M710 245.4V254.6" fill="none" stroke="#e4aaeb" stroke-width="1.4"/>
<path d="M692.7 250L700 242.9L707.3 250L700 257.1Z" fill="#dd70f3" stroke="#cc77dc" stroke-width="0.8"/>
<path d="M654 362H670M654 357.4V366.6M670 357.4V366.6" fill="none" stroke="#e4aaeb" stroke-width="1.4"/>
<path d="M654.7 362L662 354.9L669.3 362L662 369.1Z" fill="#dd70f3" stroke="#cc77dc" stroke-width="0.8"/>
<path d="M702.4 261.4H724.4M702.4 256.8V266M724.4 256.8V266" fill="none" stroke="#e4aaeb" stroke-width="1.4"/>
<path d="M706.1 261.4L713.4 254.3L720.7 261.4L713.4 268.5Z" fill="#dd70f3" stroke="#cc77dc" stroke-width="0.8"/>
<path d="M713.8 234.5H737.8M713.8 229.9V239.1M737.8 229.9V239.1" fill="none" stroke="#e4aaeb" stroke-width="1.4"/>
<path d="M718.5 234.5L725.8 227.4L733.1 234.5L725.8 241.6Z" fill="#dd70f3" stroke="#cc77dc" stroke-width="0.8"/>
<path d="M619.2 259H638.2M619.2 254.4V263.6M638.2 254.4V263.6" fill="none" stroke="#e4aaeb" stroke-width="1.4"/>
<path d="M621.4 259L628.7 251.9L636 259L628.7 266.1Z" fill="#dd70f3" stroke="#cc77dc" stroke-width="0.8"/>
<path d="M720.5 243.3H748.5M720.5 238.7V247.9M748.5 238.7V247.9" fill="none" stroke="#1a2a9c" stroke-width="1.4"/>
<path d="M727.2 243.3L734.5 236.2L741.8 243.3L734.5 250.4Z" fill="#0b16c2" stroke="#101c96" stroke-width="0.8"/>
<path d="M626 316.6H632M626 312V321.2M632 312V321.2" fill="none" stroke="#1a2a9c" stroke-width="1.4"/>
<path d="M621.7 316.6L629 309.5L636.3 316.6L629 323.7Z" fill="#0b16c2" stroke="#101c96" stroke-width="0.8"/>
<path d="M731 245H759M731 240.4V249.6M759 240.4V249.6" fill="none" stroke="#e4aaeb" stroke-width="1.4"/>
<path d="M737.7 245L745 237.9L752.3 245L745 252.1Z" fill="#dd70f3" stroke="#cc77dc" stroke-width="0.8"/>
<path d="M704 292H728M704 287.4V296.6M728 287.4V296.6" fill="none" stroke="#1a2a9c" stroke-width="1.4"/>
<path d="M708.7 292L716 284.9L723.3 292L716 299.1Z" fill="#0b16c2" stroke="#101c96" stroke-width="0.8"/>
<path d="M654.5 287H668.5M654.5 282.4V291.6M668.5 282.4V291.6" fill="none" stroke="#e4aaeb" stroke-width="1.4"/>
<path d="M654.2 287L661.5 279.9L668.8 287L661.5 294.1Z" fill="#dd70f3" stroke="#cc77dc" stroke-width="0.8"/>
<path d="M733 219H763M733 214.4V223.6M763 214.4V223.6" fill="none" stroke="#a9d9f5" stroke-width="1.4"/>
<path d="M740.7 219L748 211.9L755.3 219L748 226.1Z" fill="#82cff7" stroke="#79bfe6" stroke-width="0.8"/>
<path d="M768.6 220.3H804.6M768.6 215.7V224.9M804.6 215.7V224.9" fill="none" stroke="#a9d9f5" stroke-width="1.4"/>
<path d="M779.3 220.3L786.6 213.2L793.9 220.3L786.6 227.4Z" fill="#82cff7" stroke="#79bfe6" stroke-width="0.8"/>
<path d="M739 268H775M739 263.4V272.6M775 263.4V272.6" fill="none" stroke="#1a2a9c" stroke-width="1.4"/>
<path d="M749.7 268L757 260.9L764.3 268L757 275.1Z" fill="#0b16c2" stroke="#101c96" stroke-width="0.8"/>
<path d="M674.5 263.5H698.5M674.5 258.9V268.1M698.5 258.9V268.1" fill="none" stroke="#1a2a9c" stroke-width="1.4"/>
<path d="M679.2 263.5L686.5 256.4L693.8 263.5L686.5 270.6Z" fill="#0b16c2" stroke="#101c96" stroke-width="0.8"/>
<path d="M724.5 265.5H764.5M724.5 260.9V270.1M764.5 260.9V270.1" fill="none" stroke="#1a2a9c" stroke-width="1.4"/>
<path d="M737.2 265.5L744.5 258.4L751.8 265.5L744.5 272.6Z" fill="#0b16c2" stroke="#101c96" stroke-width="0.8"/>
<path d="M672.5 311.6H686.5M672.5 307V316.2M686.5 307V316.2" fill="none" stroke="#e4aaeb" stroke-width="1.4"/>
<path d="M672.2 311.6L679.5 304.5L686.8 311.6L679.5 318.7Z" fill="#dd70f3" stroke="#cc77dc" stroke-width="0.8"/>
<path d="M715 270H741M715 265.4V274.6M741 265.4V274.6" fill="none" stroke="#1a2a9c" stroke-width="1.4"/>
<path d="M720.7 270L728 262.9L735.3 270L728 277.1Z" fill="#0b16c2" stroke="#101c96" stroke-width="0.8"/>
<path d="M681.2 244.5H709.2M681.2 239.9V249.1M709.2 239.9V249.1" fill="none" stroke="#1a2a9c" stroke-width="1.4"/>
<path d="M687.9 244.5L695.2 237.4L702.5 244.5L695.2 251.6Z" fill="#0b16c2" stroke="#101c96" stroke-width="0.8"/>
<path d="M639.7 337.4H649.7M639.7 332.8V342M649.7 332.8V342" fill="none" stroke="#e4aaeb" stroke-width="1.4"/>
<path d="M637.4 337.4L644.7 330.3L652 337.4L644.7 344.5Z" fill="#dd70f3" stroke="#cc77dc" stroke-width="0.8"/>
<path d="M721.5 291.8H751.5M721.5 287.2V296.4M751.5 287.2V296.4" fill="none" stroke="#1a2a9c" stroke-width="1.4"/>
<path d="M729.2 291.8L736.5 284.7L743.8 291.8L736.5 298.9Z" fill="#0b16c2" stroke="#101c96" stroke-width="0.8"/>
<path d="M660.2 228H687.2M660.2 223.4V232.6M687.2 223.4V232.6" fill="none" stroke="#e4aaeb" stroke-width="1.4"/>
<path d="M666.4 228L673.7 220.9L681 228L673.7 235.1Z" fill="#dd70f3" stroke="#cc77dc" stroke-width="0.8"/>
<path d="M724 244H752M724 239.4V248.6M752 239.4V248.6" fill="none" stroke="#1a2a9c" stroke-width="1.4"/>
<path d="M730.7 244L738 236.9L745.3 244L738 251.1Z" fill="#0b16c2" stroke="#101c96" stroke-width="0.8"/>
<path d="M694 258H714M694 253.4V262.6M714 253.4V262.6" fill="none" stroke="#1a2a9c" stroke-width="1.4"/>
<path d="M696.7 258L704 250.9L711.3 258L704 265.1Z" fill="#0b16c2" stroke="#101c96" stroke-width="0.8"/>
<path d="M631.5 300.6H639.5M631.5 296V305.2M639.5 296V305.2" fill="none" stroke="#1a2a9c" stroke-width="1.4"/>
<path d="M628.2 300.6L635.5 293.5L642.8 300.6L635.5 307.7Z" fill="#0b16c2" stroke="#101c96" stroke-width="0.8"/>
<path d="M635.9 323.2H645.9M635.9 318.6V327.8M645.9 318.6V327.8" fill="none" stroke="#e4aaeb" stroke-width="1.4"/>
<path d="M633.6 323.2L640.9 316.1L648.2 323.2L640.9 330.3Z" fill="#dd70f3" stroke="#cc77dc" stroke-width="0.8"/>
<path d="M706 300H730M706 295.4V304.6M730 295.4V304.6" fill="none" stroke="#1a2a9c" stroke-width="1.4"/>
<path d="M710.7 300L718 292.9L725.3 300L718 307.1Z" fill="#0b16c2" stroke="#101c96" stroke-width="0.8"/>
<path d="M734 280H770M734 275.4V284.6M770 275.4V284.6" fill="none" stroke="#1a2a9c" stroke-width="1.4"/>
<path d="M744.7 280L752 272.9L759.3 280L752 287.1Z" fill="#0b16c2" stroke="#101c96" stroke-width="0.8"/>
<path d="M731.5 213.3H760.5M731.5 208.7V217.9M760.5 208.7V217.9" fill="none" stroke="#e4aaeb" stroke-width="1.4"/>
<path d="M738.7 213.3L746 206.2L753.3 213.3L746 220.4Z" fill="#dd70f3" stroke="#cc77dc" stroke-width="0.8"/>
<path d="M672.3 276.4H688.3M672.3 271.8V281M688.3 271.8V281" fill="none" stroke="#e4aaeb" stroke-width="1.4"/>
<path d="M673 276.4L680.3 269.3L687.6 276.4L680.3 283.5Z" fill="#dd70f3" stroke="#cc77dc" stroke-width="0.8"/>
<path d="M700.9 214.5H728.9M700.9 209.9V219.1M728.9 209.9V219.1" fill="none" stroke="#e4aaeb" stroke-width="1.4"/>
<path d="M707.6 214.5L714.9 207.4L722.2 214.5L714.9 221.6Z" fill="#dd70f3" stroke="#cc77dc" stroke-width="0.8"/>
<path d="M748.3 278H816.3M748.3 273.4V282.6M816.3 273.4V282.6" fill="none" stroke="#1a2a9c" stroke-width="1.4"/>
<path d="M775 278L782.3 270.9L789.6 278L782.3 285.1Z" fill="#0b16c2" stroke="#101c96" stroke-width="0.8"/>
<path d="M690.8 205.3H722.8M690.8 200.7V209.9M722.8 200.7V209.9" fill="none" stroke="#1a2a9c" stroke-width="1.4"/>
<path d="M699.5 205.3L706.8 198.2L714.1 205.3L706.8 212.4Z" fill="#0b16c2" stroke="#101c96" stroke-width="0.8"/>
<path d="M728.5 249.3H850.5M728.5 244.7V253.9M850.5 244.7V253.9" fill="none" stroke="#1a2a9c" stroke-width="1.4"/>
<path d="M782.2 249.3L789.5 242.2L796.8 249.3L789.5 256.4Z" fill="#0b16c2" stroke="#101c96" stroke-width="0.8"/>
<path d="M740.4 290.2H785.4M740.4 285.6V294.8M785.4 285.6V294.8" fill="none" stroke="#1a2a9c" stroke-width="1.4"/>
<path d="M755.6 290.2L762.9 283.1L770.2 290.2L762.9 297.3Z" fill="#0b16c2" stroke="#101c96" stroke-width="0.8"/>
<path d="M744.4 262.7H815.6M744.4 258.1V267.3M815.6 258.1V267.3" fill="none" stroke="#1a2a9c" stroke-width="1.4"/>
<path d="M772.7 262.7L780 255.6L787.3 262.7L780 269.8Z" fill="#0b16c2" stroke="#101c96" stroke-width="0.8"/>
<path d="M664.2 250.7H681M664.2 246.1V255.3M681 246.1V255.3" fill="none" stroke="#1a2a9c" stroke-width="1.4"/>
<path d="M665.3 250.7L672.6 243.6L679.9 250.7L672.6 257.8Z" fill="#0b16c2" stroke="#101c96" stroke-width="0.8"/>
<path d="M671.3 279.4H689.3M671.3 274.8V284M689.3 274.8V284" fill="none" stroke="#1a2a9c" stroke-width="1.4"/>
<path d="M673 279.4L680.3 272.3L687.6 279.4L680.3 286.5Z" fill="#0b16c2" stroke="#101c96" stroke-width="0.8"/>
<path d="M802.5 270.4H895.5M802.5 265.8V275M895.5 265.8V275" fill="none" stroke="#1a2a9c" stroke-width="1.4"/>
<path d="M841.7 270.4L849 263.3L856.3 270.4L849 277.5Z" fill="#0b16c2" stroke="#101c96" stroke-width="0.8"/>
<path d="M676 278H696M676 273.4V282.6M696 273.4V282.6" fill="none" stroke="#1a2a9c" stroke-width="1.4"/>
<path d="M678.7 278L686 270.9L693.3 278L686 285.1Z" fill="#0b16c2" stroke="#101c96" stroke-width="0.8"/>
<path d="M712.8 289.7H738.8M712.8 285.1V294.3M738.8 285.1V294.3" fill="none" stroke="#1a2a9c" stroke-width="1.4"/>
<path d="M718.5 289.7L725.8 282.6L733.1 289.7L725.8 296.8Z" fill="#0b16c2" stroke="#101c96" stroke-width="0.8"/>
<path d="M728.7 179.3H762.3M728.7 174.7V183.9M762.3 174.7V183.9" fill="none" stroke="#1a2a9c" stroke-width="1.4"/>
<path d="M738.2 179.3L745.5 172.2L752.8 179.3L745.5 186.4Z" fill="#0b16c2" stroke="#101c96" stroke-width="0.8"/>
<path d="M742 224.8H820M742 220.2V229.4M820 220.2V229.4" fill="none" stroke="#1a2a9c" stroke-width="1.4"/>
<path d="M707 262H759M707 257.4V266.6M759 257.4V266.6" fill="none" stroke="#a9d9f5" stroke-width="1.4"/>
<path d="M730 256H774M730 251.4V260.6M774 251.4V260.6" fill="none" stroke="#a9d9f5" stroke-width="1.4"/>
<path d="M686 285H714M686 280.4V289.6M714 280.4V289.6" fill="none" stroke="#a9d9f5" stroke-width="1.4"/>
<path d="M698 270H734M698 265.4V274.6M734 265.4V274.6" fill="none" stroke="#e4aaeb" stroke-width="1.4"/>
<line x1="624.6" y1="295.3" x2="921" y2="185.2" stroke="#c9171e" stroke-width="2.6" stroke-linecap="round"/>
<rect x="591.5" y="35.8" width="401.5" height="385.8" fill="none" stroke="#000" stroke-width="2.1"/>
<line x1="658.42" y1="421.6" x2="658.42" y2="417.8" stroke="#000" stroke-width="1.6"/>
<line x1="591.5" y1="357.3" x2="595.3" y2="357.3" stroke="#000" stroke-width="1.6"/>
<line x1="725.33" y1="421.6" x2="725.33" y2="415.6" stroke="#000" stroke-width="1.6"/>
<line x1="591.5" y1="293" x2="597.5" y2="293" stroke="#000" stroke-width="1.6"/>
<line x1="792.25" y1="421.6" x2="792.25" y2="417.8" stroke="#000" stroke-width="1.6"/>
<line x1="591.5" y1="228.7" x2="595.3" y2="228.7" stroke="#000" stroke-width="1.6"/>
<line x1="859.17" y1="421.6" x2="859.17" y2="415.6" stroke="#000" stroke-width="1.6"/>
<line x1="591.5" y1="164.4" x2="597.5" y2="164.4" stroke="#000" stroke-width="1.6"/>
<line x1="926.08" y1="421.6" x2="926.08" y2="417.8" stroke="#000" stroke-width="1.6"/>
<line x1="591.5" y1="100.1" x2="595.3" y2="100.1" stroke="#000" stroke-width="1.6"/>
<text x="591.5" y="452.6" font-size="22.6" text-anchor="middle">0</text>
<text x="584.3" y="429.1" font-size="23" text-anchor="end">0</text>
<text x="725.33" y="452.6" font-size="22.6" text-anchor="middle">5</text>
<text x="584.3" y="300.5" font-size="23" text-anchor="end">5</text>
<text x="859.17" y="452.6" font-size="22.6" text-anchor="middle">10</text>
<text x="584.3" y="171.9" font-size="23" text-anchor="end">10</text>
<text x="993" y="452.6" font-size="22.6" text-anchor="middle">15</text>
<text x="584.3" y="42.7" font-size="23" text-anchor="end">15</text>
<text x="618.2" y="71.3" font-size="26" text-anchor="start">(b)</text>
<text x="862.6" y="345.8" font-size="19.8"><tspan font-style="italic">y</tspan>=0.55<tspan font-style="italic">x</tspan>+0.04,</text>
<text x="862.6" y="371.8" font-size="19.8" letter-spacing="-0.2"><tspan font-style="italic">R</tspan><tspan font-size="12.8" dy="-7.6">2</tspan><tspan dy="7.6">=0.36</tspan></text>
<text x="691.6" y="501.5" font-size="26.6" text-anchor="start" textLength="103.3" lengthAdjust="spacingAndGlyphs">Observed</text>
<text x="798.8" y="497.2" font-size="27" text-anchor="start" font-style="italic">C</text>
<text x="816.6" y="504.2" font-size="18" text-anchor="start">io</text>
<text x="830.4" y="498.4" font-size="27" text-anchor="start">×</text>
<text x="844.4" y="497.4" font-size="27" text-anchor="start">10</text>
<text x="872.4" y="485.2" font-size="17.5" text-anchor="start">3</text>
<text x="0" y="0" font-size="26.4" text-anchor="start" transform="translate(541.6 460.4) rotate(-90)" textLength="104.9" lengthAdjust="spacingAndGlyphs">Improved</text>
<text x="0" y="0" font-size="26.4" text-anchor="start" transform="translate(541.6 340.2) rotate(-90)" textLength="215.6" lengthAdjust="spacingAndGlyphs">parameterization of</text>
<text x="0" y="0" font-size="26.5" text-anchor="start" font-style="italic" transform="translate(541.6 119.2) rotate(-90)">C</text>
<text x="0" y="0" font-size="18.5" text-anchor="start" transform="translate(548.4 97.4) rotate(-90)">io</text>
<text x="0" y="0" font-size="26.5" text-anchor="start" transform="translate(541.6 81.8) rotate(-90)">×10</text>
<text x="0" y="0" font-size="17" text-anchor="start" transform="translate(523.2 39.6) rotate(-90)">3</text>
</g>
<g id="panel-c">
<clipPath id="clipc"><rect x="119.1" y="576.7" width="874.8" height="144"/></clipPath>
<g clip-path="url(#clipc)">
<rect x="194.45" y="613.13" width="11.7" height="35.57" fill="#e274f2" stroke="#8e3c96" stroke-width="1"/>
<rect x="227.15" y="643.66" width="11.7" height="5.04" fill="#e274f2" stroke="#8e3c96" stroke-width="1"/>
<rect x="255.45" y="603.63" width="11.7" height="45.07" fill="#e274f2" stroke="#8e3c96" stroke-width="1"/>
<rect x="259.35" y="603.63" width="11.7" height="45.07" fill="#e274f2" stroke="#8e3c96" stroke-width="1"/>
<rect x="266.45" y="648.7" width="11.7" height="5.47" fill="#e274f2" stroke="#8e3c96" stroke-width="1"/>
<rect x="273.45" y="594.56" width="11.7" height="54.14" fill="#e274f2" stroke="#8e3c96" stroke-width="1"/>
<rect x="282.55" y="589.66" width="11.7" height="59.04" fill="#e274f2" stroke="#8e3c96" stroke-width="1"/>
<rect x="290.75" y="591.53" width="11.7" height="57.17" fill="#e274f2" stroke="#8e3c96" stroke-width="1"/>
<rect x="302.75" y="612.7" width="11.7" height="36" fill="#e274f2" stroke="#8e3c96" stroke-width="1"/>
<rect x="302.75" y="648.7" width="11.7" height="10.51" fill="#e274f2" stroke="#8e3c96" stroke-width="1"/>
<rect x="319.55" y="573.82" width="11.7" height="74.88" fill="#e274f2" stroke="#8e3c96" stroke-width="1"/>
<rect x="322.55" y="615.58" width="11.7" height="33.12" fill="#e274f2" stroke="#8e3c96" stroke-width="1"/>
<rect x="337.85" y="592.54" width="11.7" height="56.16" fill="#e274f2" stroke="#8e3c96" stroke-width="1"/>
<rect x="341.35" y="573.82" width="11.7" height="74.88" fill="#e274f2" stroke="#8e3c96" stroke-width="1"/>
<rect x="358.35" y="648.7" width="11.7" height="11.23" fill="#e274f2" stroke="#8e3c96" stroke-width="1"/>
<rect x="364.05" y="573.82" width="11.7" height="74.88" fill="#e274f2" stroke="#8e3c96" stroke-width="1"/>
<rect x="376.95" y="648.7" width="11.7" height="51.55" fill="#e274f2" stroke="#8e3c96" stroke-width="1"/>
<rect x="382.45" y="608.67" width="11.7" height="40.03" fill="#e274f2" stroke="#8e3c96" stroke-width="1"/>
<rect x="416.95" y="641.5" width="11.7" height="7.2" fill="#e274f2" stroke="#8e3c96" stroke-width="1"/>
<rect x="416.95" y="648.7" width="11.7" height="5.76" fill="#e274f2" stroke="#8e3c96" stroke-width="1"/>
<rect x="457.35" y="648.7" width="11.7" height="44.06" fill="#e274f2" stroke="#8e3c96" stroke-width="1"/>
<rect x="474.95" y="648.7" width="11.7" height="23.62" fill="#e274f2" stroke="#8e3c96" stroke-width="1"/>
<rect x="506.25" y="648.7" width="11.7" height="11.23" fill="#e274f2" stroke="#8e3c96" stroke-width="1"/>
<rect x="186.95" y="645.82" width="11.7" height="2.88" fill="#86cef8" stroke="#2f6c98" stroke-width="1"/>
<rect x="216.15" y="582.46" width="11.7" height="66.24" fill="#86cef8" stroke="#2f6c98" stroke-width="1"/>
<rect x="238.35" y="573.82" width="11.7" height="74.88" fill="#86cef8" stroke="#2f6c98" stroke-width="1"/>
<rect x="240.15" y="573.82" width="11.7" height="74.88" fill="#86cef8" stroke="#2f6c98" stroke-width="1"/>
<rect x="240.15" y="638.19" width="11.7" height="10.51" fill="#86cef8" stroke="#2f6c98" stroke-width="1"/>
<rect x="259.15" y="613.56" width="11.7" height="35.14" fill="#86cef8" stroke="#2f6c98" stroke-width="1"/>
<rect x="267.45" y="633.72" width="11.7" height="14.98" fill="#86cef8" stroke="#2f6c98" stroke-width="1"/>
<rect x="271.95" y="648.7" width="11.7" height="6.48" fill="#86cef8" stroke="#2f6c98" stroke-width="1"/>
<rect x="315.15" y="600.1" width="11.7" height="48.6" fill="#86cef8" stroke="#2f6c98" stroke-width="1"/>
<rect x="334.15" y="606.65" width="11.7" height="42.05" fill="#86cef8" stroke="#2f6c98" stroke-width="1"/>
<rect x="337.35" y="648.7" width="11.7" height="14.4" fill="#86cef8" stroke="#2f6c98" stroke-width="1"/>
<rect x="350.55" y="598.3" width="11.7" height="50.4" fill="#86cef8" stroke="#2f6c98" stroke-width="1"/>
<rect x="352.65" y="598.3" width="11.7" height="50.4" fill="#86cef8" stroke="#2f6c98" stroke-width="1"/>
<rect x="391.75" y="617.88" width="11.7" height="30.82" fill="#86cef8" stroke="#2f6c98" stroke-width="1"/>
<rect x="405.35" y="648.7" width="11.7" height="22.61" fill="#86cef8" stroke="#2f6c98" stroke-width="1"/>
<rect x="432.55" y="648.7" width="11.7" height="27.07" fill="#86cef8" stroke="#2f6c98" stroke-width="1"/>
<rect x="452.55" y="633.87" width="11.7" height="14.83" fill="#86cef8" stroke="#2f6c98" stroke-width="1"/>
<rect x="453.55" y="648.7" width="11.7" height="14.4" fill="#86cef8" stroke="#2f6c98" stroke-width="1"/>
<rect x="467.15" y="629.84" width="11.7" height="18.86" fill="#86cef8" stroke="#2f6c98" stroke-width="1"/>
<rect x="471.65" y="641.64" width="11.7" height="7.06" fill="#86cef8" stroke="#2f6c98" stroke-width="1"/>
<rect x="509.75" y="648.7" width="11.7" height="22.61" fill="#86cef8" stroke="#2f6c98" stroke-width="1"/>
<rect x="533.45" y="648.7" width="11.7" height="26.64" fill="#86cef8" stroke="#2f6c98" stroke-width="1"/>
<rect x="562.15" y="646.68" width="11.7" height="2.02" fill="#86cef8" stroke="#2f6c98" stroke-width="1"/>
<rect x="562.15" y="648.7" width="11.7" height="14.4" fill="#86cef8" stroke="#2f6c98" stroke-width="1"/>
<rect x="587.25" y="648.7" width="11.7" height="42.77" fill="#86cef8" stroke="#2f6c98" stroke-width="1"/>
<rect x="596.95" y="648.7" width="11.7" height="30.1" fill="#86cef8" stroke="#2f6c98" stroke-width="1"/>
<rect x="789.55" y="648.7" width="11.7" height="28.51" fill="#86cef8" stroke="#2f6c98" stroke-width="1"/>
<rect x="831.65" y="648.7" width="11.7" height="23.04" fill="#86cef8" stroke="#2f6c98" stroke-width="1"/>
<rect x="196.75" y="613.42" width="11.7" height="35.28" fill="#0c1cc0" stroke="#020a70" stroke-width="1"/>
<rect x="209.75" y="612.7" width="11.7" height="36" fill="#0c1cc0" stroke="#020a70" stroke-width="1"/>
<rect x="252.95" y="632.72" width="11.7" height="15.98" fill="#0c1cc0" stroke="#020a70" stroke-width="1"/>
<rect x="265.95" y="638.19" width="11.7" height="10.51" fill="#0c1cc0" stroke="#020a70" stroke-width="1"/>
<rect x="280.95" y="634.3" width="11.7" height="14.4" fill="#0c1cc0" stroke="#020a70" stroke-width="1"/>
<rect x="290.95" y="608.67" width="11.7" height="40.03" fill="#0c1cc0" stroke="#020a70" stroke-width="1"/>
<rect x="318.25" y="617.16" width="11.7" height="31.54" fill="#0c1cc0" stroke="#020a70" stroke-width="1"/>
<rect x="321.55" y="641.64" width="11.7" height="7.06" fill="#0c1cc0" stroke="#020a70" stroke-width="1"/>
<rect x="338.55" y="597.15" width="11.7" height="51.55" fill="#0c1cc0" stroke="#020a70" stroke-width="1"/>
<rect x="343.55" y="637.18" width="11.7" height="11.52" fill="#0c1cc0" stroke="#020a70" stroke-width="1"/>
<rect x="359.75" y="621.34" width="11.7" height="27.36" fill="#0c1cc0" stroke="#020a70" stroke-width="1"/>
<rect x="364.25" y="594.27" width="11.7" height="54.43" fill="#0c1cc0" stroke="#020a70" stroke-width="1"/>
<rect x="375.55" y="617.31" width="11.7" height="31.39" fill="#0c1cc0" stroke="#020a70" stroke-width="1"/>
<rect x="379.65" y="623.21" width="11.7" height="25.49" fill="#0c1cc0" stroke="#020a70" stroke-width="1"/>
<rect x="384.45" y="648.7" width="11.7" height="15.55" fill="#0c1cc0" stroke="#020a70" stroke-width="1"/>
<rect x="399.65" y="648.7" width="11.7" height="21.6" fill="#0c1cc0" stroke="#020a70" stroke-width="1"/>
<rect x="420.75" y="640.78" width="11.7" height="7.92" fill="#0c1cc0" stroke="#020a70" stroke-width="1"/>
<rect x="427.75" y="648.7" width="11.7" height="33.26" fill="#0c1cc0" stroke="#020a70" stroke-width="1"/>
<rect x="444.15" y="648.7" width="11.7" height="25.63" fill="#0c1cc0" stroke="#020a70" stroke-width="1"/>
<rect x="449.55" y="648.7" width="11.7" height="20.59" fill="#0c1cc0" stroke="#020a70" stroke-width="1"/>
<rect x="467.15" y="640.35" width="11.7" height="8.35" fill="#0c1cc0" stroke="#020a70" stroke-width="1"/>
<rect x="487.65" y="648.7" width="11.7" height="25.63" fill="#0c1cc0" stroke="#020a70" stroke-width="1"/>
<rect x="524.95" y="648.7" width="11.7" height="37.3" fill="#0c1cc0" stroke="#020a70" stroke-width="1"/>
<rect x="528.25" y="648.7" width="11.7" height="32.69" fill="#0c1cc0" stroke="#020a70" stroke-width="1"/>
<rect x="545.85" y="648.7" width="11.7" height="37.73" fill="#0c1cc0" stroke="#020a70" stroke-width="1"/>
<rect x="556.05" y="648.7" width="11.7" height="43.2" fill="#0c1cc0" stroke="#020a70" stroke-width="1"/>
<rect x="675.15" y="648.7" width="11.7" height="24.48" fill="#0c1cc0" stroke="#020a70" stroke-width="1"/>
</g>
<line x1="119.1" y1="648.7" x2="993.9" y2="648.7" stroke="#000" stroke-width="1.9"/>
<rect x="119.1" y="576.7" width="874.8" height="144" fill="none" stroke="#000" stroke-width="1.9"/>
<line x1="177.42" y1="720.7" x2="177.42" y2="715.1" stroke="#000" stroke-width="1.7"/>
<line x1="177.42" y1="576.7" x2="177.42" y2="582.3" stroke="#000" stroke-width="1.7"/>
<line x1="235.74" y1="720.7" x2="235.74" y2="715.1" stroke="#000" stroke-width="1.7"/>
<line x1="235.74" y1="576.7" x2="235.74" y2="582.3" stroke="#000" stroke-width="1.7"/>
<line x1="294.06" y1="720.7" x2="294.06" y2="715.1" stroke="#000" stroke-width="1.7"/>
<line x1="294.06" y1="576.7" x2="294.06" y2="582.3" stroke="#000" stroke-width="1.7"/>
<line x1="352.38" y1="720.7" x2="352.38" y2="715.1" stroke="#000" stroke-width="1.7"/>
<line x1="352.38" y1="576.7" x2="352.38" y2="582.3" stroke="#000" stroke-width="1.7"/>
<line x1="410.7" y1="720.7" x2="410.7" y2="715.1" stroke="#000" stroke-width="1.7"/>
<line x1="410.7" y1="576.7" x2="410.7" y2="582.3" stroke="#000" stroke-width="1.7"/>
<line x1="469.02" y1="720.7" x2="469.02" y2="715.1" stroke="#000" stroke-width="1.7"/>
<line x1="469.02" y1="576.7" x2="469.02" y2="582.3" stroke="#000" stroke-width="1.7"/>
<line x1="527.34" y1="720.7" x2="527.34" y2="715.1" stroke="#000" stroke-width="1.7"/>
<line x1="527.34" y1="576.7" x2="527.34" y2="582.3" stroke="#000" stroke-width="1.7"/>
<line x1="585.66" y1="720.7" x2="585.66" y2="715.1" stroke="#000" stroke-width="1.7"/>
<line x1="585.66" y1="576.7" x2="585.66" y2="582.3" stroke="#000" stroke-width="1.7"/>
<line x1="643.98" y1="720.7" x2="643.98" y2="715.1" stroke="#000" stroke-width="1.7"/>
<line x1="643.98" y1="576.7" x2="643.98" y2="582.3" stroke="#000" stroke-width="1.7"/>
<line x1="702.3" y1="720.7" x2="702.3" y2="715.1" stroke="#000" stroke-width="1.7"/>
<line x1="702.3" y1="576.7" x2="702.3" y2="582.3" stroke="#000" stroke-width="1.7"/>
<line x1="760.62" y1="720.7" x2="760.62" y2="715.1" stroke="#000" stroke-width="1.7"/>
<line x1="760.62" y1="576.7" x2="760.62" y2="582.3" stroke="#000" stroke-width="1.7"/>
<line x1="818.94" y1="720.7" x2="818.94" y2="715.1" stroke="#000" stroke-width="1.7"/>
<line x1="818.94" y1="576.7" x2="818.94" y2="582.3" stroke="#000" stroke-width="1.7"/>
<line x1="877.26" y1="720.7" x2="877.26" y2="715.1" stroke="#000" stroke-width="1.7"/>
<line x1="877.26" y1="576.7" x2="877.26" y2="582.3" stroke="#000" stroke-width="1.7"/>
<line x1="935.58" y1="720.7" x2="935.58" y2="715.1" stroke="#000" stroke-width="1.7"/>
<line x1="935.58" y1="576.7" x2="935.58" y2="582.3" stroke="#000" stroke-width="1.7"/>
<line x1="119.1" y1="612.7" x2="124.7" y2="612.7" stroke="#000" stroke-width="1.7"/>
<line x1="993.9" y1="612.7" x2="988.3" y2="612.7" stroke="#000" stroke-width="1.7"/>
<line x1="119.1" y1="684.7" x2="124.7" y2="684.7" stroke="#000" stroke-width="1.7"/>
<line x1="993.9" y1="684.7" x2="988.3" y2="684.7" stroke="#000" stroke-width="1.7"/>
<text x="119.1" y="742.8" font-size="20.2" text-anchor="middle">0</text>
<text x="177.42" y="742.8" font-size="20.2" text-anchor="middle">1</text>
<text x="235.74" y="742.8" font-size="20.2" text-anchor="middle">2</text>
<text x="294.06" y="742.8" font-size="20.2" text-anchor="middle">3</text>
<text x="352.38" y="742.8" font-size="20.2" text-anchor="middle">4</text>
<text x="410.7" y="742.8" font-size="20.2" text-anchor="middle">5</text>
<text x="469.02" y="742.8" font-size="20.2" text-anchor="middle">6</text>
<text x="527.34" y="742.8" font-size="20.2" text-anchor="middle">7</text>
<text x="585.66" y="742.8" font-size="20.2" text-anchor="middle">8</text>
<text x="643.98" y="742.8" font-size="20.2" text-anchor="middle">9</text>
<text x="702.3" y="742.8" font-size="20.2" text-anchor="middle">10</text>
<text x="760.62" y="742.8" font-size="20.2" text-anchor="middle">11</text>
<text x="818.94" y="742.8" font-size="20.2" text-anchor="middle">12</text>
<text x="877.26" y="742.8" font-size="20.2" text-anchor="middle">13</text>
<text x="935.58" y="742.8" font-size="20.2" text-anchor="middle">14</text>
<text x="993.9" y="742.8" font-size="20.2" text-anchor="middle">15</text>
<text x="113.6" y="583.1" font-size="20.2" text-anchor="end">0.5</text>
<text x="113.6" y="655.1" font-size="20.2" text-anchor="end">0.0</text>
<text x="113.6" y="727.1" font-size="20.2" text-anchor="end">-0.5</text>
<text x="137.4" y="618.6" font-size="27.2" text-anchor="start">(c)</text>
<rect x="862.7" y="586" width="33.9" height="15.2" fill="#86cef8" stroke="#2f6c98" stroke-width="1"/>
<text x="901" y="598.8" font-size="15.2" text-anchor="start">SOD_A</text>
<rect x="862.7" y="605" width="33.9" height="15.2" fill="#e274f2" stroke="#8e3c96" stroke-width="1"/>
<text x="901" y="618" font-size="15.2" text-anchor="start">SOD_B</text>
<rect x="862.7" y="624.2" width="33.9" height="15.2" fill="#0c1cc0" stroke="#020a70" stroke-width="1"/>
<text x="901" y="637.2" font-size="15.2" text-anchor="start">SOD_C</text>
<text x="465.8" y="783.8" font-size="24.7" text-anchor="start" textLength="95.8" lengthAdjust="spacingAndGlyphs">Observed</text>
<text x="569" y="783.8" font-size="25" text-anchor="start" font-style="italic">C</text>
<text x="586" y="789.8" font-size="16.5" text-anchor="start">io</text>
<text x="599" y="783.8" font-size="25" text-anchor="start">×10</text>
<text x="638" y="774" font-size="15.5" text-anchor="start">3</text>
<text x="0" y="0" font-size="24.8" text-anchor="start" transform="translate(41 777.8) rotate(-90)" textLength="252.4" lengthAdjust="spacingAndGlyphs">The difference in relative</text>
<text x="0" y="0" font-size="25.2" text-anchor="start" transform="translate(73 773) rotate(-90)" textLength="259.6" lengthAdjust="spacingAndGlyphs">error between (a) and (b)</text>
</g>
</svg>
</body></html>
